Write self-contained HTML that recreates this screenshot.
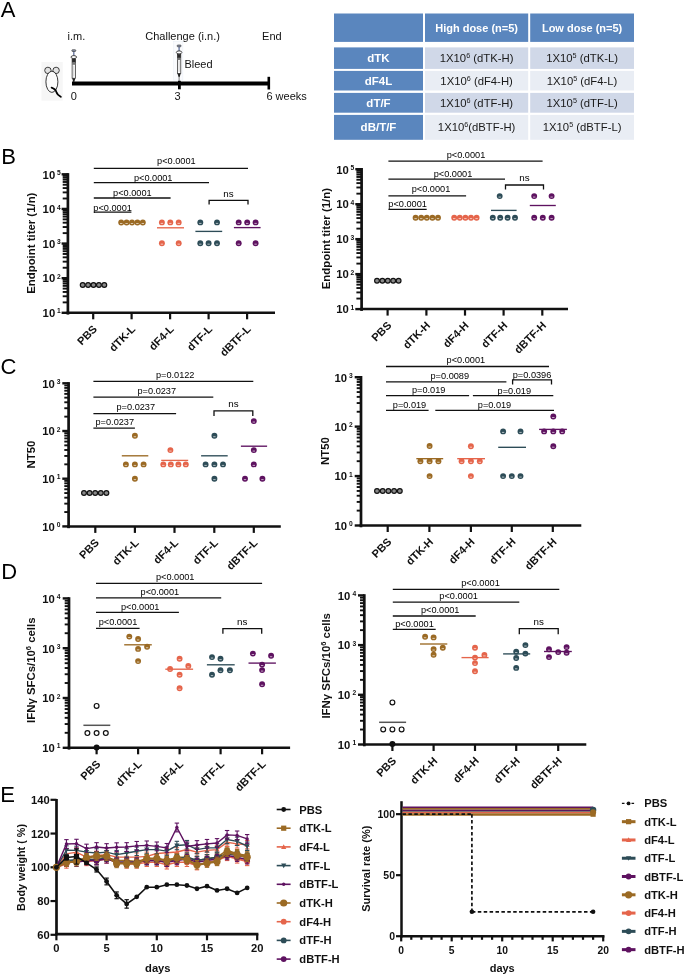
<!DOCTYPE html><html><head><meta charset="utf-8"><style>
html,body{margin:0;padding:0;background:#fff;}
svg{display:block;font-family:"Liberation Sans", sans-serif;will-change:transform;}
</style></head><body>
<svg width="685" height="976" viewBox="0 0 685 976">
<rect width="685" height="976" fill="#fff"/>
<text x="0.8" y="16.9" font-size="22" font-weight="normal" text-anchor="start" fill="#000" >A</text>
<text x="1.2" y="163.8" font-size="22" font-weight="normal" text-anchor="start" fill="#000" >B</text>
<text x="0.6" y="373.6" font-size="22" font-weight="normal" text-anchor="start" fill="#000" >C</text>
<text x="1.3" y="578.9" font-size="22" font-weight="normal" text-anchor="start" fill="#000" >D</text>
<text x="0.2" y="802.1" font-size="22" font-weight="normal" text-anchor="start" fill="#000" >E</text>
<rect x="41.5" y="62" width="21.2" height="38.6" fill="#f6f6f6"/>
<circle cx="47.9" cy="70.4" r="3.2" fill="#e2e2e2" stroke="#222" stroke-width="0.85"/>
<circle cx="56.1" cy="70.4" r="3.2" fill="#e2e2e2" stroke="#222" stroke-width="0.85"/>
<ellipse cx="51.9" cy="81.8" rx="6" ry="10.6" fill="#fbfbfb" stroke="#222" stroke-width="0.9"/>
<path d="M51.6,87.6 C54.5,88.5 55.8,89.5 56.6,92.6 C57.6,95.2 59,95.8 60.8,96.8" fill="none" stroke="#000" stroke-width="1.8" stroke-linecap="round"/>
<rect x="73.1" y="51.1" width="1.4" height="5.2" fill="#6c7aa2"/>
<rect x="71.8" y="49.7" width="4.0" height="1.8" rx="0.8" fill="#8a93a8" stroke="#333" stroke-width="0.6"/>
<ellipse cx="73.8" cy="57.1" rx="2.8" ry="1.5" fill="#fff" stroke="#222" stroke-width="0.8"/>
<rect x="72.1" y="59" width="3.4" height="19.2" fill="#fff" stroke="#222" stroke-width="0.7"/>
<rect x="72.1" y="59" width="3.4" height="3.6" fill="#2a2a2a"/>
<rect x="72.1" y="62.6" width="3.4" height="2.2" fill="#777"/>
<rect x="73.2" y="65.5" width="1.2" height="11" fill="#d8d8d8"/>
<path d="M72.2,78.2 L75.4,78.2 L74.3,82 L73.3,82 Z" fill="#222"/>
<line x1="73.8" y1="82" x2="73.8" y2="82.5" stroke="#444" stroke-width="0.7" />
<rect x="173.7" y="41.3" width="9.2" height="38.8" fill="#fafbfd" stroke="#e8eef6" stroke-width="0.5"/>
<rect x="178.4" y="46.4" width="1.4" height="5.2" fill="#6c7aa2"/>
<rect x="177.1" y="45" width="4.0" height="1.8" rx="0.8" fill="#8a93a8" stroke="#333" stroke-width="0.6"/>
<ellipse cx="179.1" cy="52.4" rx="2.8" ry="1.5" fill="#fff" stroke="#222" stroke-width="0.8"/>
<rect x="177.4" y="54.3" width="3.4" height="19.2" fill="#fff" stroke="#222" stroke-width="0.7"/>
<rect x="177.4" y="54.3" width="3.4" height="3.6" fill="#2a2a2a"/>
<rect x="177.4" y="57.9" width="3.4" height="2.2" fill="#777"/>
<rect x="178.5" y="60.8" width="1.2" height="11" fill="#d8d8d8"/>
<path d="M177.5,73.5 L180.7,73.5 L179.6,77.3 L178.6,77.3 Z" fill="#222"/>
<line x1="179.1" y1="77.3" x2="179.1" y2="81" stroke="#444" stroke-width="0.7" />
<line x1="72" y1="83.5" x2="269.5" y2="83.5" stroke="#000" stroke-width="3.8" />
<line x1="179.4" y1="80.8" x2="179.4" y2="89.3" stroke="#000" stroke-width="2.8" />
<line x1="268.8" y1="76.8" x2="268.8" y2="89.5" stroke="#000" stroke-width="2.6" />
<text x="67.5" y="39.8" font-size="11" font-weight="normal" text-anchor="start" fill="#111" >i.m.</text>
<text x="145.3" y="39.8" font-size="11" font-weight="normal" text-anchor="start" fill="#111" >Challenge (i.n.)</text>
<text x="262.1" y="39.8" font-size="11" font-weight="normal" text-anchor="start" fill="#111" >End</text>
<text x="184.4" y="67.5" font-size="11" font-weight="normal" text-anchor="start" fill="#111" >Bleed</text>
<text x="73.9" y="99.6" font-size="11" font-weight="normal" text-anchor="middle" fill="#111" >0</text>
<text x="177.6" y="99.6" font-size="11" font-weight="normal" text-anchor="middle" fill="#111" >3</text>
<text x="266.4" y="99.6" font-size="11" font-weight="normal" text-anchor="start" fill="#111" >6 weeks</text>
<rect x="334" y="13.5" width="89" height="28.4" fill="#5a86be"/>
<rect x="425" y="13.5" width="103.2" height="28.4" fill="#5a86be"/>
<rect x="530.2" y="13.5" width="103.8" height="28.4" fill="#5a86be"/>
<rect x="334" y="47.4" width="89" height="21.5" fill="#5a86be"/>
<rect x="425" y="47.4" width="103.2" height="21.5" fill="#d0d8e8"/>
<rect x="530.2" y="47.4" width="103.8" height="21.5" fill="#d0d8e8"/>
<rect x="334" y="70.9" width="89" height="19.6" fill="#5a86be"/>
<rect x="425" y="70.9" width="103.2" height="19.6" fill="#e9edf4"/>
<rect x="530.2" y="70.9" width="103.8" height="19.6" fill="#e9edf4"/>
<rect x="334" y="92.9" width="89" height="19.8" fill="#5a86be"/>
<rect x="425" y="92.9" width="103.2" height="19.8" fill="#d0d8e8"/>
<rect x="530.2" y="92.9" width="103.8" height="19.8" fill="#d0d8e8"/>
<rect x="334" y="114.9" width="89" height="24.9" fill="#5a86be"/>
<rect x="425" y="114.9" width="103.2" height="24.9" fill="#e9edf4"/>
<rect x="530.2" y="114.9" width="103.8" height="24.9" fill="#e9edf4"/>
<text x="476.6" y="31.7" font-size="11" font-weight="bold" text-anchor="middle" fill="#fff" >High dose (n=5)</text>
<text x="582.1" y="31.7" font-size="11" font-weight="bold" text-anchor="middle" fill="#fff" >Low dose (n=5)</text>
<text x="378.5" y="62.15" font-size="11.5" font-weight="bold" text-anchor="middle" fill="#fff" >dTK</text>
<text x="378.5" y="84.7" font-size="11.5" font-weight="bold" text-anchor="middle" fill="#fff" >dF4L</text>
<text x="378.5" y="106.8" font-size="11.5" font-weight="bold" text-anchor="middle" fill="#fff" >dT/F</text>
<text x="378.5" y="131.35" font-size="11.5" font-weight="bold" text-anchor="middle" fill="#fff" >dB/T/F</text>
<text x="476.6" y="62.15" font-size="11.3" text-anchor="middle" fill="#1a1a1a">1X10<tspan font-size="7.2" dy="-4">6</tspan><tspan dy="4"> (dTK-H)</tspan></text>
<text x="582.1" y="62.15" font-size="11.3" text-anchor="middle" fill="#1a1a1a">1X10<tspan font-size="7.2" dy="-4">5</tspan><tspan dy="4"> (dTK-L)</tspan></text>
<text x="476.6" y="84.7" font-size="11.3" text-anchor="middle" fill="#1a1a1a">1X10<tspan font-size="7.2" dy="-4">6</tspan><tspan dy="4"> (dF4-H)</tspan></text>
<text x="582.1" y="84.7" font-size="11.3" text-anchor="middle" fill="#1a1a1a">1X10<tspan font-size="7.2" dy="-4">5</tspan><tspan dy="4"> (dF4-L)</tspan></text>
<text x="476.6" y="106.8" font-size="11.3" text-anchor="middle" fill="#1a1a1a">1X10<tspan font-size="7.2" dy="-4">6</tspan><tspan dy="4"> (dTF-H)</tspan></text>
<text x="582.1" y="106.8" font-size="11.3" text-anchor="middle" fill="#1a1a1a">1X10<tspan font-size="7.2" dy="-4">5</tspan><tspan dy="4"> (dTF-L)</tspan></text>
<text x="476.6" y="131.35" font-size="11.3" text-anchor="middle" fill="#1a1a1a">1X10<tspan font-size="7.2" dy="-4">6</tspan><tspan dy="4">(dBTF-H)</tspan></text>
<text x="582.1" y="131.35" font-size="11.3" text-anchor="middle" fill="#1a1a1a">1X10<tspan font-size="7.2" dy="-4">5</tspan><tspan dy="4"> (dBTF-L)</tspan></text>
<line x1="62.7" y1="198.5" x2="67.9" y2="198.5" stroke="#111111" stroke-width="1.9" />
<line x1="62.7" y1="192.4" x2="67.9" y2="192.4" stroke="#111111" stroke-width="1.9" />
<line x1="62.7" y1="188.08" x2="67.9" y2="188.08" stroke="#111111" stroke-width="1.9" />
<line x1="62.7" y1="184.72" x2="67.9" y2="184.72" stroke="#111111" stroke-width="1.9" />
<line x1="62.7" y1="181.98" x2="67.9" y2="181.98" stroke="#111111" stroke-width="1.9" />
<line x1="62.7" y1="179.66" x2="67.9" y2="179.66" stroke="#111111" stroke-width="1.9" />
<line x1="62.7" y1="177.66" x2="67.9" y2="177.66" stroke="#111111" stroke-width="1.9" />
<line x1="62.7" y1="175.88" x2="67.9" y2="175.88" stroke="#111111" stroke-width="1.9" />
<line x1="62.7" y1="233.13" x2="67.9" y2="233.13" stroke="#111111" stroke-width="1.9" />
<line x1="62.7" y1="227.03" x2="67.9" y2="227.03" stroke="#111111" stroke-width="1.9" />
<line x1="62.7" y1="222.7" x2="67.9" y2="222.7" stroke="#111111" stroke-width="1.9" />
<line x1="62.7" y1="219.35" x2="67.9" y2="219.35" stroke="#111111" stroke-width="1.9" />
<line x1="62.7" y1="216.61" x2="67.9" y2="216.61" stroke="#111111" stroke-width="1.9" />
<line x1="62.7" y1="214.29" x2="67.9" y2="214.29" stroke="#111111" stroke-width="1.9" />
<line x1="62.7" y1="212.28" x2="67.9" y2="212.28" stroke="#111111" stroke-width="1.9" />
<line x1="62.7" y1="210.51" x2="67.9" y2="210.51" stroke="#111111" stroke-width="1.9" />
<line x1="62.7" y1="267.75" x2="67.9" y2="267.75" stroke="#111111" stroke-width="1.9" />
<line x1="62.7" y1="261.65" x2="67.9" y2="261.65" stroke="#111111" stroke-width="1.9" />
<line x1="62.7" y1="257.33" x2="67.9" y2="257.33" stroke="#111111" stroke-width="1.9" />
<line x1="62.7" y1="253.97" x2="67.9" y2="253.97" stroke="#111111" stroke-width="1.9" />
<line x1="62.7" y1="251.23" x2="67.9" y2="251.23" stroke="#111111" stroke-width="1.9" />
<line x1="62.7" y1="248.91" x2="67.9" y2="248.91" stroke="#111111" stroke-width="1.9" />
<line x1="62.7" y1="246.91" x2="67.9" y2="246.91" stroke="#111111" stroke-width="1.9" />
<line x1="62.7" y1="245.13" x2="67.9" y2="245.13" stroke="#111111" stroke-width="1.9" />
<line x1="62.7" y1="302.38" x2="67.9" y2="302.38" stroke="#111111" stroke-width="1.9" />
<line x1="62.7" y1="296.28" x2="67.9" y2="296.28" stroke="#111111" stroke-width="1.9" />
<line x1="62.7" y1="291.95" x2="67.9" y2="291.95" stroke="#111111" stroke-width="1.9" />
<line x1="62.7" y1="288.6" x2="67.9" y2="288.6" stroke="#111111" stroke-width="1.9" />
<line x1="62.7" y1="285.86" x2="67.9" y2="285.86" stroke="#111111" stroke-width="1.9" />
<line x1="62.7" y1="283.54" x2="67.9" y2="283.54" stroke="#111111" stroke-width="1.9" />
<line x1="62.7" y1="281.53" x2="67.9" y2="281.53" stroke="#111111" stroke-width="1.9" />
<line x1="62.7" y1="279.76" x2="67.9" y2="279.76" stroke="#111111" stroke-width="1.9" />
<line x1="61.6" y1="174.3" x2="67.9" y2="174.3" stroke="#111111" stroke-width="2.4" />
<text x="55.2" y="178.6" font-size="11.3" font-weight="bold" text-anchor="end" fill="#111" >10</text>
<text x="56.9" y="174.9" font-size="6.7" font-weight="bold" text-anchor="start" fill="#111" >5</text>
<line x1="61.6" y1="208.93" x2="67.9" y2="208.93" stroke="#111111" stroke-width="2.4" />
<text x="55.2" y="213.23" font-size="11.3" font-weight="bold" text-anchor="end" fill="#111" >10</text>
<text x="56.9" y="209.53" font-size="6.7" font-weight="bold" text-anchor="start" fill="#111" >4</text>
<line x1="61.6" y1="243.55" x2="67.9" y2="243.55" stroke="#111111" stroke-width="2.4" />
<text x="55.2" y="247.85" font-size="11.3" font-weight="bold" text-anchor="end" fill="#111" >10</text>
<text x="56.9" y="244.15" font-size="6.7" font-weight="bold" text-anchor="start" fill="#111" >3</text>
<line x1="61.6" y1="278.18" x2="67.9" y2="278.18" stroke="#111111" stroke-width="2.4" />
<text x="55.2" y="282.48" font-size="11.3" font-weight="bold" text-anchor="end" fill="#111" >10</text>
<text x="56.9" y="278.78" font-size="6.7" font-weight="bold" text-anchor="start" fill="#111" >2</text>
<line x1="61.6" y1="312.8" x2="67.9" y2="312.8" stroke="#111111" stroke-width="2.4" />
<text x="55.2" y="317.1" font-size="11.3" font-weight="bold" text-anchor="end" fill="#111" >10</text>
<text x="56.9" y="313.4" font-size="6.7" font-weight="bold" text-anchor="start" fill="#111" >1</text>
<line x1="67.9" y1="173.1" x2="67.9" y2="314.6" stroke="#111111" stroke-width="2.7" />
<line x1="66.6" y1="312.8" x2="275" y2="312.8" stroke="#111111" stroke-width="2.5" />
<line x1="93.2" y1="312.8" x2="93.2" y2="319.3" stroke="#111111" stroke-width="2.2" />
<line x1="131.6" y1="312.8" x2="131.6" y2="319.3" stroke="#111111" stroke-width="2.2" />
<line x1="170.1" y1="312.8" x2="170.1" y2="319.3" stroke="#111111" stroke-width="2.2" />
<line x1="208.6" y1="312.8" x2="208.6" y2="319.3" stroke="#111111" stroke-width="2.2" />
<line x1="247.1" y1="312.8" x2="247.1" y2="319.3" stroke="#111111" stroke-width="2.2" />
<text x="97.7" y="329.8" font-size="11" font-weight="bold" text-anchor="end" fill="#111" transform="rotate(-45 97.7 329.8)">PBS</text>
<text x="136.1" y="329.8" font-size="11" font-weight="bold" text-anchor="end" fill="#111" transform="rotate(-45 136.1 329.8)">dTK-L</text>
<text x="174.6" y="329.8" font-size="11" font-weight="bold" text-anchor="end" fill="#111" transform="rotate(-45 174.6 329.8)">dF4-L</text>
<text x="213.1" y="329.8" font-size="11" font-weight="bold" text-anchor="end" fill="#111" transform="rotate(-45 213.1 329.8)">dTF-L</text>
<text x="251.6" y="329.8" font-size="11" font-weight="bold" text-anchor="end" fill="#111" transform="rotate(-45 251.6 329.8)">dBTF-L</text>
<text x="35.5" y="243.2" font-size="11.4" font-weight="bold" text-anchor="middle" fill="#111" transform="rotate(-90 35.5 243.2)">Endpoint titer (1/n)</text>
<line x1="93.8" y1="168.3" x2="248" y2="168.3" stroke="#111111" stroke-width="1.3" />
<text x="176.4" y="164.3" font-size="9.2" font-weight="normal" text-anchor="middle" fill="#000" >p&lt;0.0001</text>
<line x1="93.8" y1="182.6" x2="209" y2="182.6" stroke="#111111" stroke-width="1.3" />
<text x="153.2" y="180.8" font-size="9.2" font-weight="normal" text-anchor="middle" fill="#000" >p&lt;0.0001</text>
<line x1="93.8" y1="198" x2="170.6" y2="198" stroke="#111111" stroke-width="1.3" />
<text x="132.4" y="195.8" font-size="9.2" font-weight="normal" text-anchor="middle" fill="#000" >p&lt;0.0001</text>
<line x1="93.8" y1="212.2" x2="131.4" y2="212.2" stroke="#111111" stroke-width="1.3" />
<text x="112.6" y="210.6" font-size="9.2" font-weight="normal" text-anchor="middle" fill="#000" >p&lt;0.0001</text>
<polyline points="209.1,204.6 209.1,200.4 248,200.4 248,204.6" fill="none" stroke="#111111" stroke-width="1.3"/>
<text x="228.55" y="196.6" font-size="9.8" font-weight="normal" text-anchor="middle" fill="#000" >ns</text>
<circle cx="82.7" cy="285" r="2.4" fill="#8a8a8a" stroke="#111111" stroke-width="1.2"/>
<circle cx="88.1" cy="285" r="2.4" fill="#8a8a8a" stroke="#111111" stroke-width="1.2"/>
<circle cx="93.5" cy="285" r="2.4" fill="#8a8a8a" stroke="#111111" stroke-width="1.2"/>
<circle cx="98.9" cy="285" r="2.4" fill="#8a8a8a" stroke="#111111" stroke-width="1.2"/>
<circle cx="104.3" cy="285" r="2.4" fill="#8a8a8a" stroke="#111111" stroke-width="1.2"/>
<circle cx="121.2" cy="222.5" r="2.95" fill="#9b6a24"/>
<rect x="120" y="223" width="2.4" height="0.9" fill="#fff" opacity="0.7"/>
<circle cx="126.6" cy="222.5" r="2.95" fill="#9b6a24"/>
<rect x="125.4" y="223" width="2.4" height="0.9" fill="#fff" opacity="0.7"/>
<circle cx="132" cy="222.5" r="2.95" fill="#9b6a24"/>
<rect x="130.8" y="223" width="2.4" height="0.9" fill="#fff" opacity="0.7"/>
<circle cx="137.4" cy="222.5" r="2.95" fill="#9b6a24"/>
<rect x="136.2" y="223" width="2.4" height="0.9" fill="#fff" opacity="0.7"/>
<circle cx="142.8" cy="222.5" r="2.95" fill="#9b6a24"/>
<rect x="141.6" y="223" width="2.4" height="0.9" fill="#fff" opacity="0.7"/>
<circle cx="161.9" cy="222.4" r="2.95" fill="#e5654b"/>
<rect x="160.7" y="222.9" width="2.4" height="0.9" fill="#fff" opacity="0.7"/>
<circle cx="170.3" cy="222.4" r="2.95" fill="#e5654b"/>
<rect x="169.1" y="222.9" width="2.4" height="0.9" fill="#fff" opacity="0.7"/>
<circle cx="178.7" cy="222.4" r="2.95" fill="#e5654b"/>
<rect x="177.5" y="222.9" width="2.4" height="0.9" fill="#fff" opacity="0.7"/>
<circle cx="161.9" cy="243.2" r="2.95" fill="#e5654b"/>
<rect x="160.7" y="243.7" width="2.4" height="0.9" fill="#fff" opacity="0.7"/>
<circle cx="178.7" cy="243.2" r="2.95" fill="#e5654b"/>
<rect x="177.5" y="243.7" width="2.4" height="0.9" fill="#fff" opacity="0.7"/>
<line x1="157" y1="227.8" x2="184" y2="227.8" stroke="#e5654b" stroke-width="1.35" />
<circle cx="200.3" cy="222.4" r="2.95" fill="#2d4c57"/>
<rect x="199.1" y="222.9" width="2.4" height="0.9" fill="#fff" opacity="0.7"/>
<circle cx="217" cy="222.4" r="2.95" fill="#2d4c57"/>
<rect x="215.8" y="222.9" width="2.4" height="0.9" fill="#fff" opacity="0.7"/>
<circle cx="200.3" cy="243.2" r="2.95" fill="#2d4c57"/>
<rect x="199.1" y="243.7" width="2.4" height="0.9" fill="#fff" opacity="0.7"/>
<circle cx="208.6" cy="243.2" r="2.95" fill="#2d4c57"/>
<rect x="207.4" y="243.7" width="2.4" height="0.9" fill="#fff" opacity="0.7"/>
<circle cx="217" cy="243.2" r="2.95" fill="#2d4c57"/>
<rect x="215.8" y="243.7" width="2.4" height="0.9" fill="#fff" opacity="0.7"/>
<line x1="195.4" y1="231.4" x2="222.2" y2="231.4" stroke="#2d4c57" stroke-width="1.35" />
<circle cx="238.7" cy="222.4" r="2.95" fill="#5e1260"/>
<rect x="237.5" y="222.9" width="2.4" height="0.9" fill="#fff" opacity="0.7"/>
<circle cx="247.2" cy="222.4" r="2.95" fill="#5e1260"/>
<rect x="246" y="222.9" width="2.4" height="0.9" fill="#fff" opacity="0.7"/>
<circle cx="255.6" cy="222.4" r="2.95" fill="#5e1260"/>
<rect x="254.4" y="222.9" width="2.4" height="0.9" fill="#fff" opacity="0.7"/>
<circle cx="238.7" cy="243.2" r="2.95" fill="#5e1260"/>
<rect x="237.5" y="243.7" width="2.4" height="0.9" fill="#fff" opacity="0.7"/>
<circle cx="255.6" cy="243.2" r="2.95" fill="#5e1260"/>
<rect x="254.4" y="243.7" width="2.4" height="0.9" fill="#fff" opacity="0.7"/>
<line x1="233.9" y1="227.6" x2="260.6" y2="227.6" stroke="#5e1260" stroke-width="1.35" />
<line x1="356.4" y1="193.65" x2="361.6" y2="193.65" stroke="#111111" stroke-width="1.9" />
<line x1="356.4" y1="187.49" x2="361.6" y2="187.49" stroke="#111111" stroke-width="1.9" />
<line x1="356.4" y1="183.12" x2="361.6" y2="183.12" stroke="#111111" stroke-width="1.9" />
<line x1="356.4" y1="179.73" x2="361.6" y2="179.73" stroke="#111111" stroke-width="1.9" />
<line x1="356.4" y1="176.96" x2="361.6" y2="176.96" stroke="#111111" stroke-width="1.9" />
<line x1="356.4" y1="174.62" x2="361.6" y2="174.62" stroke="#111111" stroke-width="1.9" />
<line x1="356.4" y1="172.59" x2="361.6" y2="172.59" stroke="#111111" stroke-width="1.9" />
<line x1="356.4" y1="170.8" x2="361.6" y2="170.8" stroke="#111111" stroke-width="1.9" />
<line x1="356.4" y1="228.62" x2="361.6" y2="228.62" stroke="#111111" stroke-width="1.9" />
<line x1="356.4" y1="222.46" x2="361.6" y2="222.46" stroke="#111111" stroke-width="1.9" />
<line x1="356.4" y1="218.09" x2="361.6" y2="218.09" stroke="#111111" stroke-width="1.9" />
<line x1="356.4" y1="214.7" x2="361.6" y2="214.7" stroke="#111111" stroke-width="1.9" />
<line x1="356.4" y1="211.93" x2="361.6" y2="211.93" stroke="#111111" stroke-width="1.9" />
<line x1="356.4" y1="209.59" x2="361.6" y2="209.59" stroke="#111111" stroke-width="1.9" />
<line x1="356.4" y1="207.56" x2="361.6" y2="207.56" stroke="#111111" stroke-width="1.9" />
<line x1="356.4" y1="205.78" x2="361.6" y2="205.78" stroke="#111111" stroke-width="1.9" />
<line x1="356.4" y1="263.6" x2="361.6" y2="263.6" stroke="#111111" stroke-width="1.9" />
<line x1="356.4" y1="257.44" x2="361.6" y2="257.44" stroke="#111111" stroke-width="1.9" />
<line x1="356.4" y1="253.07" x2="361.6" y2="253.07" stroke="#111111" stroke-width="1.9" />
<line x1="356.4" y1="249.68" x2="361.6" y2="249.68" stroke="#111111" stroke-width="1.9" />
<line x1="356.4" y1="246.91" x2="361.6" y2="246.91" stroke="#111111" stroke-width="1.9" />
<line x1="356.4" y1="244.57" x2="361.6" y2="244.57" stroke="#111111" stroke-width="1.9" />
<line x1="356.4" y1="242.54" x2="361.6" y2="242.54" stroke="#111111" stroke-width="1.9" />
<line x1="356.4" y1="240.75" x2="361.6" y2="240.75" stroke="#111111" stroke-width="1.9" />
<line x1="356.4" y1="298.57" x2="361.6" y2="298.57" stroke="#111111" stroke-width="1.9" />
<line x1="356.4" y1="292.41" x2="361.6" y2="292.41" stroke="#111111" stroke-width="1.9" />
<line x1="356.4" y1="288.04" x2="361.6" y2="288.04" stroke="#111111" stroke-width="1.9" />
<line x1="356.4" y1="284.65" x2="361.6" y2="284.65" stroke="#111111" stroke-width="1.9" />
<line x1="356.4" y1="281.88" x2="361.6" y2="281.88" stroke="#111111" stroke-width="1.9" />
<line x1="356.4" y1="279.54" x2="361.6" y2="279.54" stroke="#111111" stroke-width="1.9" />
<line x1="356.4" y1="277.51" x2="361.6" y2="277.51" stroke="#111111" stroke-width="1.9" />
<line x1="356.4" y1="275.73" x2="361.6" y2="275.73" stroke="#111111" stroke-width="1.9" />
<line x1="355.3" y1="169.2" x2="361.6" y2="169.2" stroke="#111111" stroke-width="2.4" />
<text x="348.9" y="173.5" font-size="11.3" font-weight="bold" text-anchor="end" fill="#111" >10</text>
<text x="350.6" y="169.8" font-size="6.7" font-weight="bold" text-anchor="start" fill="#111" >5</text>
<line x1="355.3" y1="204.18" x2="361.6" y2="204.18" stroke="#111111" stroke-width="2.4" />
<text x="348.9" y="208.48" font-size="11.3" font-weight="bold" text-anchor="end" fill="#111" >10</text>
<text x="350.6" y="204.78" font-size="6.7" font-weight="bold" text-anchor="start" fill="#111" >4</text>
<line x1="355.3" y1="239.15" x2="361.6" y2="239.15" stroke="#111111" stroke-width="2.4" />
<text x="348.9" y="243.45" font-size="11.3" font-weight="bold" text-anchor="end" fill="#111" >10</text>
<text x="350.6" y="239.75" font-size="6.7" font-weight="bold" text-anchor="start" fill="#111" >3</text>
<line x1="355.3" y1="274.12" x2="361.6" y2="274.12" stroke="#111111" stroke-width="2.4" />
<text x="348.9" y="278.43" font-size="11.3" font-weight="bold" text-anchor="end" fill="#111" >10</text>
<text x="350.6" y="274.73" font-size="6.7" font-weight="bold" text-anchor="start" fill="#111" >2</text>
<line x1="355.3" y1="309.1" x2="361.6" y2="309.1" stroke="#111111" stroke-width="2.4" />
<text x="348.9" y="313.4" font-size="11.3" font-weight="bold" text-anchor="end" fill="#111" >10</text>
<text x="350.6" y="309.7" font-size="6.7" font-weight="bold" text-anchor="start" fill="#111" >1</text>
<line x1="361.6" y1="168" x2="361.6" y2="310.9" stroke="#111111" stroke-width="2.7" />
<line x1="360.3" y1="309.1" x2="568" y2="309.1" stroke="#111111" stroke-width="2.5" />
<line x1="387.6" y1="309.1" x2="387.6" y2="315.6" stroke="#111111" stroke-width="2.2" />
<line x1="426.4" y1="309.1" x2="426.4" y2="315.6" stroke="#111111" stroke-width="2.2" />
<line x1="465" y1="309.1" x2="465" y2="315.6" stroke="#111111" stroke-width="2.2" />
<line x1="503.6" y1="309.1" x2="503.6" y2="315.6" stroke="#111111" stroke-width="2.2" />
<line x1="542.3" y1="309.1" x2="542.3" y2="315.6" stroke="#111111" stroke-width="2.2" />
<text x="392.1" y="326.1" font-size="11" font-weight="bold" text-anchor="end" fill="#111" transform="rotate(-45 392.1 326.1)">PBS</text>
<text x="430.9" y="326.1" font-size="11" font-weight="bold" text-anchor="end" fill="#111" transform="rotate(-45 430.9 326.1)">dTK-H</text>
<text x="469.5" y="326.1" font-size="11" font-weight="bold" text-anchor="end" fill="#111" transform="rotate(-45 469.5 326.1)">dF4-H</text>
<text x="508.1" y="326.1" font-size="11" font-weight="bold" text-anchor="end" fill="#111" transform="rotate(-45 508.1 326.1)">dTF-H</text>
<text x="546.8" y="326.1" font-size="11" font-weight="bold" text-anchor="end" fill="#111" transform="rotate(-45 546.8 326.1)">dBTF-H</text>
<text x="330.2" y="238.6" font-size="11.4" font-weight="bold" text-anchor="middle" fill="#111" transform="rotate(-90 330.2 238.6)">Endpoint titer (1/n)</text>
<line x1="388.4" y1="161.2" x2="542.6" y2="161.2" stroke="#111111" stroke-width="1.3" />
<text x="466" y="157.6" font-size="9.2" font-weight="normal" text-anchor="middle" fill="#000" >p&lt;0.0001</text>
<line x1="388.4" y1="179.2" x2="505" y2="179.2" stroke="#111111" stroke-width="1.3" />
<text x="453" y="177.3" font-size="9.2" font-weight="normal" text-anchor="middle" fill="#000" >p&lt;0.0001</text>
<line x1="388.4" y1="195.8" x2="466.1" y2="195.8" stroke="#111111" stroke-width="1.3" />
<text x="431" y="192.4" font-size="9.2" font-weight="normal" text-anchor="middle" fill="#000" >p&lt;0.0001</text>
<line x1="388.4" y1="209.3" x2="426.7" y2="209.3" stroke="#111111" stroke-width="1.3" />
<text x="407.6" y="207.1" font-size="9.2" font-weight="normal" text-anchor="middle" fill="#000" >p&lt;0.0001</text>
<polyline points="505.5,189.6 505.5,185 543.5,185 543.5,189.6" fill="none" stroke="#111111" stroke-width="1.3"/>
<text x="524.5" y="181.2" font-size="9.8" font-weight="normal" text-anchor="middle" fill="#000" >ns</text>
<circle cx="377" cy="280.8" r="2.4" fill="#8a8a8a" stroke="#111111" stroke-width="1.2"/>
<circle cx="382.4" cy="280.8" r="2.4" fill="#8a8a8a" stroke="#111111" stroke-width="1.2"/>
<circle cx="387.8" cy="280.8" r="2.4" fill="#8a8a8a" stroke="#111111" stroke-width="1.2"/>
<circle cx="393.2" cy="280.8" r="2.4" fill="#8a8a8a" stroke="#111111" stroke-width="1.2"/>
<circle cx="398.6" cy="280.8" r="2.4" fill="#8a8a8a" stroke="#111111" stroke-width="1.2"/>
<circle cx="415.6" cy="217.7" r="2.95" fill="#9b6a24"/>
<rect x="414.4" y="218.2" width="2.4" height="0.9" fill="#fff" opacity="0.7"/>
<circle cx="421.2" cy="217.7" r="2.95" fill="#9b6a24"/>
<rect x="420" y="218.2" width="2.4" height="0.9" fill="#fff" opacity="0.7"/>
<circle cx="426.8" cy="217.7" r="2.95" fill="#9b6a24"/>
<rect x="425.6" y="218.2" width="2.4" height="0.9" fill="#fff" opacity="0.7"/>
<circle cx="432.4" cy="217.7" r="2.95" fill="#9b6a24"/>
<rect x="431.2" y="218.2" width="2.4" height="0.9" fill="#fff" opacity="0.7"/>
<circle cx="438" cy="217.7" r="2.95" fill="#9b6a24"/>
<rect x="436.8" y="218.2" width="2.4" height="0.9" fill="#fff" opacity="0.7"/>
<circle cx="454.2" cy="217.7" r="2.95" fill="#e5654b"/>
<rect x="453" y="218.2" width="2.4" height="0.9" fill="#fff" opacity="0.7"/>
<circle cx="459.8" cy="217.7" r="2.95" fill="#e5654b"/>
<rect x="458.6" y="218.2" width="2.4" height="0.9" fill="#fff" opacity="0.7"/>
<circle cx="465.4" cy="217.7" r="2.95" fill="#e5654b"/>
<rect x="464.2" y="218.2" width="2.4" height="0.9" fill="#fff" opacity="0.7"/>
<circle cx="471" cy="217.7" r="2.95" fill="#e5654b"/>
<rect x="469.8" y="218.2" width="2.4" height="0.9" fill="#fff" opacity="0.7"/>
<circle cx="476.6" cy="217.7" r="2.95" fill="#e5654b"/>
<rect x="475.4" y="218.2" width="2.4" height="0.9" fill="#fff" opacity="0.7"/>
<circle cx="492.8" cy="217.7" r="2.95" fill="#2d4c57"/>
<rect x="491.6" y="218.2" width="2.4" height="0.9" fill="#fff" opacity="0.7"/>
<circle cx="500.2" cy="217.7" r="2.95" fill="#2d4c57"/>
<rect x="499" y="218.2" width="2.4" height="0.9" fill="#fff" opacity="0.7"/>
<circle cx="507.6" cy="217.7" r="2.95" fill="#2d4c57"/>
<rect x="506.4" y="218.2" width="2.4" height="0.9" fill="#fff" opacity="0.7"/>
<circle cx="515" cy="217.7" r="2.95" fill="#2d4c57"/>
<rect x="513.8" y="218.2" width="2.4" height="0.9" fill="#fff" opacity="0.7"/>
<circle cx="499.7" cy="196.1" r="2.95" fill="#2d4c57"/>
<rect x="498.5" y="196.6" width="2.4" height="0.9" fill="#fff" opacity="0.7"/>
<line x1="491" y1="210.4" x2="516.6" y2="210.4" stroke="#2d4c57" stroke-width="1.35" />
<circle cx="534.2" cy="217.7" r="2.95" fill="#5e1260"/>
<rect x="533" y="218.2" width="2.4" height="0.9" fill="#fff" opacity="0.7"/>
<circle cx="542.8" cy="217.7" r="2.95" fill="#5e1260"/>
<rect x="541.6" y="218.2" width="2.4" height="0.9" fill="#fff" opacity="0.7"/>
<circle cx="551.6" cy="217.7" r="2.95" fill="#5e1260"/>
<rect x="550.4" y="218.2" width="2.4" height="0.9" fill="#fff" opacity="0.7"/>
<circle cx="534.2" cy="196.1" r="2.95" fill="#5e1260"/>
<rect x="533" y="196.6" width="2.4" height="0.9" fill="#fff" opacity="0.7"/>
<circle cx="551.6" cy="196.1" r="2.95" fill="#5e1260"/>
<rect x="550.4" y="196.6" width="2.4" height="0.9" fill="#fff" opacity="0.7"/>
<line x1="529.8" y1="205.5" x2="555.8" y2="205.5" stroke="#5e1260" stroke-width="1.35" />
<line x1="64.3" y1="416.64" x2="68.6" y2="416.64" stroke="#111111" stroke-width="1.9" />
<line x1="64.3" y1="408.24" x2="68.6" y2="408.24" stroke="#111111" stroke-width="1.9" />
<line x1="64.3" y1="402.28" x2="68.6" y2="402.28" stroke="#111111" stroke-width="1.9" />
<line x1="64.3" y1="397.66" x2="68.6" y2="397.66" stroke="#111111" stroke-width="1.9" />
<line x1="64.3" y1="393.88" x2="68.6" y2="393.88" stroke="#111111" stroke-width="1.9" />
<line x1="64.3" y1="390.69" x2="68.6" y2="390.69" stroke="#111111" stroke-width="1.9" />
<line x1="64.3" y1="387.92" x2="68.6" y2="387.92" stroke="#111111" stroke-width="1.9" />
<line x1="64.3" y1="385.48" x2="68.6" y2="385.48" stroke="#111111" stroke-width="1.9" />
<line x1="64.3" y1="464.34" x2="68.6" y2="464.34" stroke="#111111" stroke-width="1.9" />
<line x1="64.3" y1="455.94" x2="68.6" y2="455.94" stroke="#111111" stroke-width="1.9" />
<line x1="64.3" y1="449.98" x2="68.6" y2="449.98" stroke="#111111" stroke-width="1.9" />
<line x1="64.3" y1="445.36" x2="68.6" y2="445.36" stroke="#111111" stroke-width="1.9" />
<line x1="64.3" y1="441.58" x2="68.6" y2="441.58" stroke="#111111" stroke-width="1.9" />
<line x1="64.3" y1="438.39" x2="68.6" y2="438.39" stroke="#111111" stroke-width="1.9" />
<line x1="64.3" y1="435.62" x2="68.6" y2="435.62" stroke="#111111" stroke-width="1.9" />
<line x1="64.3" y1="433.18" x2="68.6" y2="433.18" stroke="#111111" stroke-width="1.9" />
<line x1="64.3" y1="512.04" x2="68.6" y2="512.04" stroke="#111111" stroke-width="1.9" />
<line x1="64.3" y1="503.64" x2="68.6" y2="503.64" stroke="#111111" stroke-width="1.9" />
<line x1="64.3" y1="497.68" x2="68.6" y2="497.68" stroke="#111111" stroke-width="1.9" />
<line x1="64.3" y1="493.06" x2="68.6" y2="493.06" stroke="#111111" stroke-width="1.9" />
<line x1="64.3" y1="489.28" x2="68.6" y2="489.28" stroke="#111111" stroke-width="1.9" />
<line x1="64.3" y1="486.09" x2="68.6" y2="486.09" stroke="#111111" stroke-width="1.9" />
<line x1="64.3" y1="483.32" x2="68.6" y2="483.32" stroke="#111111" stroke-width="1.9" />
<line x1="64.3" y1="480.88" x2="68.6" y2="480.88" stroke="#111111" stroke-width="1.9" />
<line x1="62.3" y1="383.3" x2="68.6" y2="383.3" stroke="#111111" stroke-width="2.4" />
<text x="54.8" y="387.6" font-size="11.3" font-weight="bold" text-anchor="end" fill="#111" >10</text>
<text x="56.7" y="383.9" font-size="6.7" font-weight="bold" text-anchor="start" fill="#111" >3</text>
<line x1="62.3" y1="431" x2="68.6" y2="431" stroke="#111111" stroke-width="2.4" />
<text x="54.8" y="435.3" font-size="11.3" font-weight="bold" text-anchor="end" fill="#111" >10</text>
<text x="56.7" y="431.6" font-size="6.7" font-weight="bold" text-anchor="start" fill="#111" >2</text>
<line x1="62.3" y1="478.7" x2="68.6" y2="478.7" stroke="#111111" stroke-width="2.4" />
<text x="54.8" y="483" font-size="11.3" font-weight="bold" text-anchor="end" fill="#111" >10</text>
<text x="56.7" y="479.3" font-size="6.7" font-weight="bold" text-anchor="start" fill="#111" >1</text>
<line x1="62.3" y1="526.4" x2="68.6" y2="526.4" stroke="#111111" stroke-width="2.4" />
<text x="54.8" y="530.7" font-size="11.3" font-weight="bold" text-anchor="end" fill="#111" >10</text>
<text x="56.7" y="527" font-size="6.7" font-weight="bold" text-anchor="start" fill="#111" >0</text>
<line x1="68.6" y1="382.1" x2="68.6" y2="528.2" stroke="#111111" stroke-width="2.7" />
<line x1="67.3" y1="526.4" x2="280.8" y2="526.4" stroke="#111111" stroke-width="2.5" />
<line x1="95.3" y1="526.4" x2="95.3" y2="532.9" stroke="#111111" stroke-width="2.2" />
<line x1="134.9" y1="526.4" x2="134.9" y2="532.9" stroke="#111111" stroke-width="2.2" />
<line x1="174.5" y1="526.4" x2="174.5" y2="532.9" stroke="#111111" stroke-width="2.2" />
<line x1="214.3" y1="526.4" x2="214.3" y2="532.9" stroke="#111111" stroke-width="2.2" />
<line x1="253.8" y1="526.4" x2="253.8" y2="532.9" stroke="#111111" stroke-width="2.2" />
<text x="99.8" y="543.4" font-size="11" font-weight="bold" text-anchor="end" fill="#111" transform="rotate(-45 99.8 543.4)">PBS</text>
<text x="139.4" y="543.4" font-size="11" font-weight="bold" text-anchor="end" fill="#111" transform="rotate(-45 139.4 543.4)">dTK-L</text>
<text x="179" y="543.4" font-size="11" font-weight="bold" text-anchor="end" fill="#111" transform="rotate(-45 179 543.4)">dF4-L</text>
<text x="218.8" y="543.4" font-size="11" font-weight="bold" text-anchor="end" fill="#111" transform="rotate(-45 218.8 543.4)">dTF-L</text>
<text x="258.3" y="543.4" font-size="11" font-weight="bold" text-anchor="end" fill="#111" transform="rotate(-45 258.3 543.4)">dBTF-L</text>
<text x="35.5" y="454.6" font-size="11.4" font-weight="bold" text-anchor="middle" fill="#111" transform="rotate(-90 35.5 454.6)">NT50</text>
<line x1="93.4" y1="381.4" x2="253.3" y2="381.4" stroke="#111111" stroke-width="1.3" />
<text x="175.2" y="377.8" font-size="9.2" font-weight="normal" text-anchor="middle" fill="#000" >p=0.0122</text>
<line x1="93.4" y1="397.1" x2="213.3" y2="397.1" stroke="#111111" stroke-width="1.3" />
<text x="156.8" y="393.7" font-size="9.2" font-weight="normal" text-anchor="middle" fill="#000" >p=0.0237</text>
<line x1="93.4" y1="413.6" x2="176.1" y2="413.6" stroke="#111111" stroke-width="1.3" />
<text x="135.8" y="410.2" font-size="9.2" font-weight="normal" text-anchor="middle" fill="#000" >p=0.0237</text>
<line x1="93.4" y1="428.2" x2="134.9" y2="428.2" stroke="#111111" stroke-width="1.3" />
<text x="114.8" y="424.8" font-size="9.2" font-weight="normal" text-anchor="middle" fill="#000" >p=0.0237</text>
<polyline points="214,415.9 214,410.9 252.8,410.9 252.8,415.9" fill="none" stroke="#111111" stroke-width="1.3"/>
<text x="233.4" y="407.3" font-size="9.8" font-weight="normal" text-anchor="middle" fill="#000" >ns</text>
<circle cx="84" cy="493" r="2.4" fill="#8a8a8a" stroke="#111111" stroke-width="1.2"/>
<circle cx="89.6" cy="493" r="2.4" fill="#8a8a8a" stroke="#111111" stroke-width="1.2"/>
<circle cx="95.2" cy="493" r="2.4" fill="#8a8a8a" stroke="#111111" stroke-width="1.2"/>
<circle cx="100.8" cy="493" r="2.4" fill="#8a8a8a" stroke="#111111" stroke-width="1.2"/>
<circle cx="106.4" cy="493" r="2.4" fill="#8a8a8a" stroke="#111111" stroke-width="1.2"/>
<circle cx="134.9" cy="435.8" r="2.95" fill="#9b6a24"/>
<rect x="133.7" y="436.3" width="2.4" height="0.9" fill="#fff" opacity="0.7"/>
<circle cx="125.9" cy="464.4" r="2.95" fill="#9b6a24"/>
<rect x="124.7" y="464.9" width="2.4" height="0.9" fill="#fff" opacity="0.7"/>
<circle cx="134.9" cy="464.4" r="2.95" fill="#9b6a24"/>
<rect x="133.7" y="464.9" width="2.4" height="0.9" fill="#fff" opacity="0.7"/>
<circle cx="143.6" cy="464.4" r="2.95" fill="#9b6a24"/>
<rect x="142.4" y="464.9" width="2.4" height="0.9" fill="#fff" opacity="0.7"/>
<circle cx="134.9" cy="478.7" r="2.95" fill="#9b6a24"/>
<rect x="133.7" y="479.2" width="2.4" height="0.9" fill="#fff" opacity="0.7"/>
<line x1="121.8" y1="455.8" x2="148.3" y2="455.8" stroke="#9b6a24" stroke-width="1.35" />
<circle cx="170.4" cy="450.1" r="2.95" fill="#e5654b"/>
<rect x="169.2" y="450.6" width="2.4" height="0.9" fill="#fff" opacity="0.7"/>
<circle cx="163.3" cy="464.4" r="2.95" fill="#e5654b"/>
<rect x="162.1" y="464.9" width="2.4" height="0.9" fill="#fff" opacity="0.7"/>
<circle cx="170.8" cy="464.4" r="2.95" fill="#e5654b"/>
<rect x="169.6" y="464.9" width="2.4" height="0.9" fill="#fff" opacity="0.7"/>
<circle cx="178.4" cy="464.4" r="2.95" fill="#e5654b"/>
<rect x="177.2" y="464.9" width="2.4" height="0.9" fill="#fff" opacity="0.7"/>
<circle cx="185.8" cy="464.4" r="2.95" fill="#e5654b"/>
<rect x="184.6" y="464.9" width="2.4" height="0.9" fill="#fff" opacity="0.7"/>
<line x1="161.2" y1="460.4" x2="188.2" y2="460.4" stroke="#e5654b" stroke-width="1.35" />
<circle cx="214.4" cy="435.8" r="2.95" fill="#2d4c57"/>
<rect x="213.2" y="436.3" width="2.4" height="0.9" fill="#fff" opacity="0.7"/>
<circle cx="205.6" cy="464.4" r="2.95" fill="#2d4c57"/>
<rect x="204.4" y="464.9" width="2.4" height="0.9" fill="#fff" opacity="0.7"/>
<circle cx="214.4" cy="464.4" r="2.95" fill="#2d4c57"/>
<rect x="213.2" y="464.9" width="2.4" height="0.9" fill="#fff" opacity="0.7"/>
<circle cx="223" cy="464.4" r="2.95" fill="#2d4c57"/>
<rect x="221.8" y="464.9" width="2.4" height="0.9" fill="#fff" opacity="0.7"/>
<circle cx="214.4" cy="478.7" r="2.95" fill="#2d4c57"/>
<rect x="213.2" y="479.2" width="2.4" height="0.9" fill="#fff" opacity="0.7"/>
<line x1="201.1" y1="455.8" x2="227.7" y2="455.8" stroke="#2d4c57" stroke-width="1.35" />
<circle cx="253.8" cy="421.1" r="2.95" fill="#5e1260"/>
<rect x="252.6" y="421.6" width="2.4" height="0.9" fill="#fff" opacity="0.7"/>
<circle cx="253.8" cy="450.1" r="2.95" fill="#5e1260"/>
<rect x="252.6" y="450.6" width="2.4" height="0.9" fill="#fff" opacity="0.7"/>
<circle cx="253.8" cy="464.4" r="2.95" fill="#5e1260"/>
<rect x="252.6" y="464.9" width="2.4" height="0.9" fill="#fff" opacity="0.7"/>
<circle cx="245" cy="478.7" r="2.95" fill="#5e1260"/>
<rect x="243.8" y="479.2" width="2.4" height="0.9" fill="#fff" opacity="0.7"/>
<circle cx="262.4" cy="478.7" r="2.95" fill="#5e1260"/>
<rect x="261.2" y="479.2" width="2.4" height="0.9" fill="#fff" opacity="0.7"/>
<line x1="240.9" y1="446.2" x2="267.1" y2="446.2" stroke="#5e1260" stroke-width="1.35" />
<line x1="356.7" y1="411.75" x2="361" y2="411.75" stroke="#111111" stroke-width="1.9" />
<line x1="356.7" y1="403.05" x2="361" y2="403.05" stroke="#111111" stroke-width="1.9" />
<line x1="356.7" y1="396.87" x2="361" y2="396.87" stroke="#111111" stroke-width="1.9" />
<line x1="356.7" y1="392.08" x2="361" y2="392.08" stroke="#111111" stroke-width="1.9" />
<line x1="356.7" y1="388.17" x2="361" y2="388.17" stroke="#111111" stroke-width="1.9" />
<line x1="356.7" y1="384.86" x2="361" y2="384.86" stroke="#111111" stroke-width="1.9" />
<line x1="356.7" y1="381.99" x2="361" y2="381.99" stroke="#111111" stroke-width="1.9" />
<line x1="356.7" y1="379.46" x2="361" y2="379.46" stroke="#111111" stroke-width="1.9" />
<line x1="356.7" y1="461.19" x2="361" y2="461.19" stroke="#111111" stroke-width="1.9" />
<line x1="356.7" y1="452.48" x2="361" y2="452.48" stroke="#111111" stroke-width="1.9" />
<line x1="356.7" y1="446.3" x2="361" y2="446.3" stroke="#111111" stroke-width="1.9" />
<line x1="356.7" y1="441.51" x2="361" y2="441.51" stroke="#111111" stroke-width="1.9" />
<line x1="356.7" y1="437.6" x2="361" y2="437.6" stroke="#111111" stroke-width="1.9" />
<line x1="356.7" y1="434.29" x2="361" y2="434.29" stroke="#111111" stroke-width="1.9" />
<line x1="356.7" y1="431.42" x2="361" y2="431.42" stroke="#111111" stroke-width="1.9" />
<line x1="356.7" y1="428.9" x2="361" y2="428.9" stroke="#111111" stroke-width="1.9" />
<line x1="356.7" y1="510.62" x2="361" y2="510.62" stroke="#111111" stroke-width="1.9" />
<line x1="356.7" y1="501.91" x2="361" y2="501.91" stroke="#111111" stroke-width="1.9" />
<line x1="356.7" y1="495.74" x2="361" y2="495.74" stroke="#111111" stroke-width="1.9" />
<line x1="356.7" y1="490.95" x2="361" y2="490.95" stroke="#111111" stroke-width="1.9" />
<line x1="356.7" y1="487.03" x2="361" y2="487.03" stroke="#111111" stroke-width="1.9" />
<line x1="356.7" y1="483.72" x2="361" y2="483.72" stroke="#111111" stroke-width="1.9" />
<line x1="356.7" y1="480.86" x2="361" y2="480.86" stroke="#111111" stroke-width="1.9" />
<line x1="356.7" y1="478.33" x2="361" y2="478.33" stroke="#111111" stroke-width="1.9" />
<line x1="354.7" y1="377.2" x2="361" y2="377.2" stroke="#111111" stroke-width="2.4" />
<text x="347" y="381.5" font-size="11.3" font-weight="bold" text-anchor="end" fill="#111" >10</text>
<text x="348.9" y="377.8" font-size="6.7" font-weight="bold" text-anchor="start" fill="#111" >3</text>
<line x1="354.7" y1="426.63" x2="361" y2="426.63" stroke="#111111" stroke-width="2.4" />
<text x="347" y="430.93" font-size="11.3" font-weight="bold" text-anchor="end" fill="#111" >10</text>
<text x="348.9" y="427.23" font-size="6.7" font-weight="bold" text-anchor="start" fill="#111" >2</text>
<line x1="354.7" y1="476.07" x2="361" y2="476.07" stroke="#111111" stroke-width="2.4" />
<text x="347" y="480.37" font-size="11.3" font-weight="bold" text-anchor="end" fill="#111" >10</text>
<text x="348.9" y="476.67" font-size="6.7" font-weight="bold" text-anchor="start" fill="#111" >1</text>
<line x1="354.7" y1="525.5" x2="361" y2="525.5" stroke="#111111" stroke-width="2.4" />
<text x="347" y="529.8" font-size="11.3" font-weight="bold" text-anchor="end" fill="#111" >10</text>
<text x="348.9" y="526.1" font-size="6.7" font-weight="bold" text-anchor="start" fill="#111" >0</text>
<line x1="361" y1="376" x2="361" y2="527.3" stroke="#111111" stroke-width="2.7" />
<line x1="359.7" y1="525.5" x2="581.3" y2="525.5" stroke="#111111" stroke-width="2.5" />
<line x1="387.7" y1="525.5" x2="387.7" y2="532" stroke="#111111" stroke-width="2.2" />
<line x1="429.4" y1="525.5" x2="429.4" y2="532" stroke="#111111" stroke-width="2.2" />
<line x1="470.9" y1="525.5" x2="470.9" y2="532" stroke="#111111" stroke-width="2.2" />
<line x1="511.8" y1="525.5" x2="511.8" y2="532" stroke="#111111" stroke-width="2.2" />
<line x1="552.8" y1="525.5" x2="552.8" y2="532" stroke="#111111" stroke-width="2.2" />
<text x="392.2" y="542.5" font-size="11" font-weight="bold" text-anchor="end" fill="#111" transform="rotate(-45 392.2 542.5)">PBS</text>
<text x="433.9" y="542.5" font-size="11" font-weight="bold" text-anchor="end" fill="#111" transform="rotate(-45 433.9 542.5)">dTK-H</text>
<text x="475.4" y="542.5" font-size="11" font-weight="bold" text-anchor="end" fill="#111" transform="rotate(-45 475.4 542.5)">dF4-H</text>
<text x="516.3" y="542.5" font-size="11" font-weight="bold" text-anchor="end" fill="#111" transform="rotate(-45 516.3 542.5)">dTF-H</text>
<text x="557.3" y="542.5" font-size="11" font-weight="bold" text-anchor="end" fill="#111" transform="rotate(-45 557.3 542.5)">dBTF-H</text>
<text x="328.5" y="451" font-size="11.4" font-weight="bold" text-anchor="middle" fill="#111" transform="rotate(-90 328.5 451)">NT50</text>
<line x1="386" y1="366.5" x2="549" y2="366.5" stroke="#111111" stroke-width="1.3" />
<text x="465.9" y="362.9" font-size="9.2" font-weight="normal" text-anchor="middle" fill="#000" >p&lt;0.0001</text>
<line x1="386" y1="381.9" x2="506.4" y2="381.9" stroke="#111111" stroke-width="1.3" />
<text x="449.8" y="378.7" font-size="9.2" font-weight="normal" text-anchor="middle" fill="#000" >p=0.0089</text>
<polyline points="512.6,384.4 512.6,379.8 551.5,379.8 551.5,384.4" fill="none" stroke="#111111" stroke-width="1.3"/>
<text x="532.05" y="377.9" font-size="9.2" font-weight="normal" text-anchor="middle" fill="#000" >p=0.0396</text>
<line x1="386" y1="395.7" x2="469.1" y2="395.7" stroke="#111111" stroke-width="1.3" />
<text x="428.7" y="392.5" font-size="9.2" font-weight="normal" text-anchor="middle" fill="#000" >p=0.019</text>
<line x1="472.9" y1="395.7" x2="553.3" y2="395.7" stroke="#111111" stroke-width="1.3" />
<text x="514.3" y="393.5" font-size="9.2" font-weight="normal" text-anchor="middle" fill="#000" >p=0.019</text>
<line x1="386" y1="410.3" x2="428.6" y2="410.3" stroke="#111111" stroke-width="1.3" />
<text x="409.5" y="407.7" font-size="9.2" font-weight="normal" text-anchor="middle" fill="#000" >p=0.019</text>
<line x1="435.3" y1="410.3" x2="554" y2="410.3" stroke="#111111" stroke-width="1.3" />
<text x="494.5" y="407.7" font-size="9.2" font-weight="normal" text-anchor="middle" fill="#000" >p=0.019</text>
<circle cx="377" cy="491" r="2.4" fill="#8a8a8a" stroke="#111111" stroke-width="1.2"/>
<circle cx="382.7" cy="491" r="2.4" fill="#8a8a8a" stroke="#111111" stroke-width="1.2"/>
<circle cx="388.4" cy="491" r="2.4" fill="#8a8a8a" stroke="#111111" stroke-width="1.2"/>
<circle cx="394.1" cy="491" r="2.4" fill="#8a8a8a" stroke="#111111" stroke-width="1.2"/>
<circle cx="399.8" cy="491" r="2.4" fill="#8a8a8a" stroke="#111111" stroke-width="1.2"/>
<circle cx="429.6" cy="446" r="2.95" fill="#9b6a24"/>
<rect x="428.4" y="446.5" width="2.4" height="0.9" fill="#fff" opacity="0.7"/>
<circle cx="420.4" cy="461.3" r="2.95" fill="#9b6a24"/>
<rect x="419.2" y="461.8" width="2.4" height="0.9" fill="#fff" opacity="0.7"/>
<circle cx="429.6" cy="461.3" r="2.95" fill="#9b6a24"/>
<rect x="428.4" y="461.8" width="2.4" height="0.9" fill="#fff" opacity="0.7"/>
<circle cx="438.4" cy="461.3" r="2.95" fill="#9b6a24"/>
<rect x="437.2" y="461.8" width="2.4" height="0.9" fill="#fff" opacity="0.7"/>
<circle cx="429.6" cy="476.1" r="2.95" fill="#9b6a24"/>
<rect x="428.4" y="476.6" width="2.4" height="0.9" fill="#fff" opacity="0.7"/>
<line x1="416.3" y1="458.7" x2="443.2" y2="458.7" stroke="#9b6a24" stroke-width="1.35" />
<circle cx="470.9" cy="446.2" r="2.95" fill="#e5654b"/>
<rect x="469.7" y="446.7" width="2.4" height="0.9" fill="#fff" opacity="0.7"/>
<circle cx="461.6" cy="461.3" r="2.95" fill="#e5654b"/>
<rect x="460.4" y="461.8" width="2.4" height="0.9" fill="#fff" opacity="0.7"/>
<circle cx="470.9" cy="461.3" r="2.95" fill="#e5654b"/>
<rect x="469.7" y="461.8" width="2.4" height="0.9" fill="#fff" opacity="0.7"/>
<circle cx="479.8" cy="461.3" r="2.95" fill="#e5654b"/>
<rect x="478.6" y="461.8" width="2.4" height="0.9" fill="#fff" opacity="0.7"/>
<circle cx="470.9" cy="476.1" r="2.95" fill="#e5654b"/>
<rect x="469.7" y="476.6" width="2.4" height="0.9" fill="#fff" opacity="0.7"/>
<line x1="457.2" y1="458.7" x2="485" y2="458.7" stroke="#e5654b" stroke-width="1.35" />
<circle cx="503.1" cy="431.4" r="2.95" fill="#2d4c57"/>
<rect x="501.9" y="431.9" width="2.4" height="0.9" fill="#fff" opacity="0.7"/>
<circle cx="520.5" cy="431.4" r="2.95" fill="#2d4c57"/>
<rect x="519.3" y="431.9" width="2.4" height="0.9" fill="#fff" opacity="0.7"/>
<circle cx="503.1" cy="476.1" r="2.95" fill="#2d4c57"/>
<rect x="501.9" y="476.6" width="2.4" height="0.9" fill="#fff" opacity="0.7"/>
<circle cx="511.8" cy="476.1" r="2.95" fill="#2d4c57"/>
<rect x="510.6" y="476.6" width="2.4" height="0.9" fill="#fff" opacity="0.7"/>
<circle cx="520.5" cy="476.1" r="2.95" fill="#2d4c57"/>
<rect x="519.3" y="476.6" width="2.4" height="0.9" fill="#fff" opacity="0.7"/>
<line x1="498.2" y1="447.3" x2="526" y2="447.3" stroke="#2d4c57" stroke-width="1.35" />
<circle cx="553.3" cy="416.5" r="2.95" fill="#5e1260"/>
<rect x="552.1" y="417" width="2.4" height="0.9" fill="#fff" opacity="0.7"/>
<circle cx="544.1" cy="431.4" r="2.95" fill="#5e1260"/>
<rect x="542.9" y="431.9" width="2.4" height="0.9" fill="#fff" opacity="0.7"/>
<circle cx="553.3" cy="431.4" r="2.95" fill="#5e1260"/>
<rect x="552.1" y="431.9" width="2.4" height="0.9" fill="#fff" opacity="0.7"/>
<circle cx="562.2" cy="431.4" r="2.95" fill="#5e1260"/>
<rect x="561" y="431.9" width="2.4" height="0.9" fill="#fff" opacity="0.7"/>
<circle cx="553.3" cy="446.2" r="2.95" fill="#5e1260"/>
<rect x="552.1" y="446.7" width="2.4" height="0.9" fill="#fff" opacity="0.7"/>
<line x1="539.1" y1="429.4" x2="566.9" y2="429.4" stroke="#5e1260" stroke-width="1.35" />
<line x1="64.7" y1="633.21" x2="69" y2="633.21" stroke="#111111" stroke-width="1.9" />
<line x1="64.7" y1="624.44" x2="69" y2="624.44" stroke="#111111" stroke-width="1.9" />
<line x1="64.7" y1="618.22" x2="69" y2="618.22" stroke="#111111" stroke-width="1.9" />
<line x1="64.7" y1="613.39" x2="69" y2="613.39" stroke="#111111" stroke-width="1.9" />
<line x1="64.7" y1="609.45" x2="69" y2="609.45" stroke="#111111" stroke-width="1.9" />
<line x1="64.7" y1="606.11" x2="69" y2="606.11" stroke="#111111" stroke-width="1.9" />
<line x1="64.7" y1="603.23" x2="69" y2="603.23" stroke="#111111" stroke-width="1.9" />
<line x1="64.7" y1="600.68" x2="69" y2="600.68" stroke="#111111" stroke-width="1.9" />
<line x1="64.7" y1="683.01" x2="69" y2="683.01" stroke="#111111" stroke-width="1.9" />
<line x1="64.7" y1="674.24" x2="69" y2="674.24" stroke="#111111" stroke-width="1.9" />
<line x1="64.7" y1="668.02" x2="69" y2="668.02" stroke="#111111" stroke-width="1.9" />
<line x1="64.7" y1="663.19" x2="69" y2="663.19" stroke="#111111" stroke-width="1.9" />
<line x1="64.7" y1="659.25" x2="69" y2="659.25" stroke="#111111" stroke-width="1.9" />
<line x1="64.7" y1="655.91" x2="69" y2="655.91" stroke="#111111" stroke-width="1.9" />
<line x1="64.7" y1="653.03" x2="69" y2="653.03" stroke="#111111" stroke-width="1.9" />
<line x1="64.7" y1="650.48" x2="69" y2="650.48" stroke="#111111" stroke-width="1.9" />
<line x1="64.7" y1="732.81" x2="69" y2="732.81" stroke="#111111" stroke-width="1.9" />
<line x1="64.7" y1="724.04" x2="69" y2="724.04" stroke="#111111" stroke-width="1.9" />
<line x1="64.7" y1="717.82" x2="69" y2="717.82" stroke="#111111" stroke-width="1.9" />
<line x1="64.7" y1="712.99" x2="69" y2="712.99" stroke="#111111" stroke-width="1.9" />
<line x1="64.7" y1="709.05" x2="69" y2="709.05" stroke="#111111" stroke-width="1.9" />
<line x1="64.7" y1="705.71" x2="69" y2="705.71" stroke="#111111" stroke-width="1.9" />
<line x1="64.7" y1="702.83" x2="69" y2="702.83" stroke="#111111" stroke-width="1.9" />
<line x1="64.7" y1="700.28" x2="69" y2="700.28" stroke="#111111" stroke-width="1.9" />
<line x1="62.7" y1="598.4" x2="69" y2="598.4" stroke="#111111" stroke-width="2.4" />
<text x="54.9" y="602.7" font-size="11.3" font-weight="bold" text-anchor="end" fill="#111" >10</text>
<text x="56.8" y="599" font-size="6.7" font-weight="bold" text-anchor="start" fill="#111" >4</text>
<line x1="62.7" y1="648.2" x2="69" y2="648.2" stroke="#111111" stroke-width="2.4" />
<text x="54.9" y="652.5" font-size="11.3" font-weight="bold" text-anchor="end" fill="#111" >10</text>
<text x="56.8" y="648.8" font-size="6.7" font-weight="bold" text-anchor="start" fill="#111" >3</text>
<line x1="62.7" y1="698" x2="69" y2="698" stroke="#111111" stroke-width="2.4" />
<text x="54.9" y="702.3" font-size="11.3" font-weight="bold" text-anchor="end" fill="#111" >10</text>
<text x="56.8" y="698.6" font-size="6.7" font-weight="bold" text-anchor="start" fill="#111" >2</text>
<line x1="62.7" y1="747.8" x2="69" y2="747.8" stroke="#111111" stroke-width="2.4" />
<text x="54.9" y="752.1" font-size="11.3" font-weight="bold" text-anchor="end" fill="#111" >10</text>
<text x="56.8" y="748.4" font-size="6.7" font-weight="bold" text-anchor="start" fill="#111" >1</text>
<line x1="69" y1="597.2" x2="69" y2="749.6" stroke="#111111" stroke-width="2.7" />
<line x1="67.7" y1="747.8" x2="290.1" y2="747.8" stroke="#111111" stroke-width="2.5" />
<line x1="96.6" y1="747.8" x2="96.6" y2="754.3" stroke="#111111" stroke-width="2.2" />
<line x1="138.1" y1="747.8" x2="138.1" y2="754.3" stroke="#111111" stroke-width="2.2" />
<line x1="179.6" y1="747.8" x2="179.6" y2="754.3" stroke="#111111" stroke-width="2.2" />
<line x1="220.6" y1="747.8" x2="220.6" y2="754.3" stroke="#111111" stroke-width="2.2" />
<line x1="262.1" y1="747.8" x2="262.1" y2="754.3" stroke="#111111" stroke-width="2.2" />
<text x="101.1" y="764.8" font-size="11" font-weight="bold" text-anchor="end" fill="#111" transform="rotate(-45 101.1 764.8)">PBS</text>
<text x="142.6" y="764.8" font-size="11" font-weight="bold" text-anchor="end" fill="#111" transform="rotate(-45 142.6 764.8)">dTK-L</text>
<text x="184.1" y="764.8" font-size="11" font-weight="bold" text-anchor="end" fill="#111" transform="rotate(-45 184.1 764.8)">dF4-L</text>
<text x="225.1" y="764.8" font-size="11" font-weight="bold" text-anchor="end" fill="#111" transform="rotate(-45 225.1 764.8)">dTF-L</text>
<text x="266.6" y="764.8" font-size="11" font-weight="bold" text-anchor="end" fill="#111" transform="rotate(-45 266.6 764.8)">dBTF-L</text>
<text x="35.2" y="670.2" font-size="11.4" font-weight="bold" text-anchor="middle" fill="#111" transform="rotate(-90 35.2 670.2)">IFN&#947; SFCs/10<tspan font-size="7.5" dy="-4">6</tspan><tspan dy="4"> cells</tspan></text>
<line x1="96" y1="583.3" x2="262.1" y2="583.3" stroke="#111111" stroke-width="1.3" />
<text x="175.2" y="579.9" font-size="9.2" font-weight="normal" text-anchor="middle" fill="#000" >p&lt;0.0001</text>
<line x1="96" y1="597.9" x2="221.2" y2="597.9" stroke="#111111" stroke-width="1.3" />
<text x="159.9" y="595.3" font-size="9.2" font-weight="normal" text-anchor="middle" fill="#000" >p&lt;0.0001</text>
<line x1="96" y1="612.3" x2="178.9" y2="612.3" stroke="#111111" stroke-width="1.3" />
<text x="140.2" y="609.5" font-size="9.2" font-weight="normal" text-anchor="middle" fill="#000" >p&lt;0.0001</text>
<line x1="96" y1="628.3" x2="139.6" y2="628.3" stroke="#111111" stroke-width="1.3" />
<text x="118" y="625.1" font-size="9.2" font-weight="normal" text-anchor="middle" fill="#000" >p&lt;0.0001</text>
<polyline points="222.9,633.7 222.9,628.7 261.7,628.7 261.7,633.7" fill="none" stroke="#111111" stroke-width="1.3"/>
<text x="242.3" y="624.9" font-size="9.8" font-weight="normal" text-anchor="middle" fill="#000" >ns</text>
<circle cx="96.6" cy="705.9" r="2.4" fill="#fff" stroke="#111111" stroke-width="1.2"/>
<circle cx="87.4" cy="733.1" r="2.4" fill="#fff" stroke="#111111" stroke-width="1.2"/>
<circle cx="96.6" cy="733.1" r="2.4" fill="#fff" stroke="#111111" stroke-width="1.2"/>
<circle cx="105.8" cy="733.1" r="2.4" fill="#fff" stroke="#111111" stroke-width="1.2"/>
<circle cx="96.6" cy="747.4" r="3" fill="#111111"/>
<line x1="83.4" y1="725.3" x2="110.3" y2="725.3" stroke="#555" stroke-width="1.5" />
<circle cx="129.3" cy="636.6" r="2.95" fill="#9b6a24"/>
<rect x="128.1" y="637.1" width="2.4" height="0.9" fill="#fff" opacity="0.7"/>
<circle cx="138.1" cy="639" r="2.95" fill="#9b6a24"/>
<rect x="136.9" y="639.5" width="2.4" height="0.9" fill="#fff" opacity="0.7"/>
<circle cx="147.1" cy="646.8" r="2.95" fill="#9b6a24"/>
<rect x="145.9" y="647.3" width="2.4" height="0.9" fill="#fff" opacity="0.7"/>
<circle cx="138.1" cy="648.9" r="2.95" fill="#9b6a24"/>
<rect x="136.9" y="649.4" width="2.4" height="0.9" fill="#fff" opacity="0.7"/>
<circle cx="138.1" cy="661.1" r="2.95" fill="#9b6a24"/>
<rect x="136.9" y="661.6" width="2.4" height="0.9" fill="#fff" opacity="0.7"/>
<line x1="124.2" y1="644.8" x2="151.8" y2="644.8" stroke="#9b6a24" stroke-width="1.35" />
<circle cx="179.6" cy="658.7" r="2.95" fill="#e5654b"/>
<rect x="178.4" y="659.2" width="2.4" height="0.9" fill="#fff" opacity="0.7"/>
<circle cx="170.1" cy="669" r="2.95" fill="#e5654b"/>
<rect x="168.9" y="669.5" width="2.4" height="0.9" fill="#fff" opacity="0.7"/>
<circle cx="188.3" cy="665.9" r="2.95" fill="#e5654b"/>
<rect x="187.1" y="666.4" width="2.4" height="0.9" fill="#fff" opacity="0.7"/>
<circle cx="179.6" cy="674.7" r="2.95" fill="#e5654b"/>
<rect x="178.4" y="675.2" width="2.4" height="0.9" fill="#fff" opacity="0.7"/>
<circle cx="179.6" cy="688.2" r="2.95" fill="#e5654b"/>
<rect x="178.4" y="688.7" width="2.4" height="0.9" fill="#fff" opacity="0.7"/>
<line x1="165.3" y1="669.2" x2="193.1" y2="669.2" stroke="#e5654b" stroke-width="1.35" />
<circle cx="212" cy="657.1" r="2.95" fill="#2d4c57"/>
<rect x="210.8" y="657.6" width="2.4" height="0.9" fill="#fff" opacity="0.7"/>
<circle cx="220.5" cy="658.7" r="2.95" fill="#2d4c57"/>
<rect x="219.3" y="659.2" width="2.4" height="0.9" fill="#fff" opacity="0.7"/>
<circle cx="212" cy="674.7" r="2.95" fill="#2d4c57"/>
<rect x="210.8" y="675.2" width="2.4" height="0.9" fill="#fff" opacity="0.7"/>
<circle cx="220.5" cy="670.3" r="2.95" fill="#2d4c57"/>
<rect x="219.3" y="670.8" width="2.4" height="0.9" fill="#fff" opacity="0.7"/>
<circle cx="229.9" cy="670.3" r="2.95" fill="#2d4c57"/>
<rect x="228.7" y="670.8" width="2.4" height="0.9" fill="#fff" opacity="0.7"/>
<line x1="206.9" y1="664.8" x2="234.7" y2="664.8" stroke="#2d4c57" stroke-width="1.35" />
<circle cx="252.9" cy="653.6" r="2.95" fill="#5e1260"/>
<rect x="251.7" y="654.1" width="2.4" height="0.9" fill="#fff" opacity="0.7"/>
<circle cx="271.1" cy="655.8" r="2.95" fill="#5e1260"/>
<rect x="269.9" y="656.3" width="2.4" height="0.9" fill="#fff" opacity="0.7"/>
<circle cx="262.1" cy="664.6" r="2.95" fill="#5e1260"/>
<rect x="260.9" y="665.1" width="2.4" height="0.9" fill="#fff" opacity="0.7"/>
<circle cx="262.1" cy="670.1" r="2.95" fill="#5e1260"/>
<rect x="260.9" y="670.6" width="2.4" height="0.9" fill="#fff" opacity="0.7"/>
<circle cx="262.1" cy="684.3" r="2.95" fill="#5e1260"/>
<rect x="260.9" y="684.8" width="2.4" height="0.9" fill="#fff" opacity="0.7"/>
<line x1="248.5" y1="663.1" x2="275.9" y2="663.1" stroke="#5e1260" stroke-width="1.35" />
<line x1="360" y1="630.14" x2="364.3" y2="630.14" stroke="#111111" stroke-width="1.9" />
<line x1="360" y1="621.39" x2="364.3" y2="621.39" stroke="#111111" stroke-width="1.9" />
<line x1="360" y1="615.18" x2="364.3" y2="615.18" stroke="#111111" stroke-width="1.9" />
<line x1="360" y1="610.36" x2="364.3" y2="610.36" stroke="#111111" stroke-width="1.9" />
<line x1="360" y1="606.43" x2="364.3" y2="606.43" stroke="#111111" stroke-width="1.9" />
<line x1="360" y1="603.1" x2="364.3" y2="603.1" stroke="#111111" stroke-width="1.9" />
<line x1="360" y1="600.22" x2="364.3" y2="600.22" stroke="#111111" stroke-width="1.9" />
<line x1="360" y1="597.67" x2="364.3" y2="597.67" stroke="#111111" stroke-width="1.9" />
<line x1="360" y1="679.84" x2="364.3" y2="679.84" stroke="#111111" stroke-width="1.9" />
<line x1="360" y1="671.09" x2="364.3" y2="671.09" stroke="#111111" stroke-width="1.9" />
<line x1="360" y1="664.88" x2="364.3" y2="664.88" stroke="#111111" stroke-width="1.9" />
<line x1="360" y1="660.06" x2="364.3" y2="660.06" stroke="#111111" stroke-width="1.9" />
<line x1="360" y1="656.13" x2="364.3" y2="656.13" stroke="#111111" stroke-width="1.9" />
<line x1="360" y1="652.8" x2="364.3" y2="652.8" stroke="#111111" stroke-width="1.9" />
<line x1="360" y1="649.92" x2="364.3" y2="649.92" stroke="#111111" stroke-width="1.9" />
<line x1="360" y1="647.37" x2="364.3" y2="647.37" stroke="#111111" stroke-width="1.9" />
<line x1="360" y1="729.54" x2="364.3" y2="729.54" stroke="#111111" stroke-width="1.9" />
<line x1="360" y1="720.79" x2="364.3" y2="720.79" stroke="#111111" stroke-width="1.9" />
<line x1="360" y1="714.58" x2="364.3" y2="714.58" stroke="#111111" stroke-width="1.9" />
<line x1="360" y1="709.76" x2="364.3" y2="709.76" stroke="#111111" stroke-width="1.9" />
<line x1="360" y1="705.83" x2="364.3" y2="705.83" stroke="#111111" stroke-width="1.9" />
<line x1="360" y1="702.5" x2="364.3" y2="702.5" stroke="#111111" stroke-width="1.9" />
<line x1="360" y1="699.62" x2="364.3" y2="699.62" stroke="#111111" stroke-width="1.9" />
<line x1="360" y1="697.07" x2="364.3" y2="697.07" stroke="#111111" stroke-width="1.9" />
<line x1="358" y1="595.4" x2="364.3" y2="595.4" stroke="#111111" stroke-width="2.4" />
<text x="350.4" y="599.7" font-size="11.3" font-weight="bold" text-anchor="end" fill="#111" >10</text>
<text x="352.4" y="596" font-size="6.7" font-weight="bold" text-anchor="start" fill="#111" >4</text>
<line x1="358" y1="645.1" x2="364.3" y2="645.1" stroke="#111111" stroke-width="2.4" />
<text x="350.4" y="649.4" font-size="11.3" font-weight="bold" text-anchor="end" fill="#111" >10</text>
<text x="352.4" y="645.7" font-size="6.7" font-weight="bold" text-anchor="start" fill="#111" >3</text>
<line x1="358" y1="694.8" x2="364.3" y2="694.8" stroke="#111111" stroke-width="2.4" />
<text x="350.4" y="699.1" font-size="11.3" font-weight="bold" text-anchor="end" fill="#111" >10</text>
<text x="352.4" y="695.4" font-size="6.7" font-weight="bold" text-anchor="start" fill="#111" >2</text>
<line x1="358" y1="744.5" x2="364.3" y2="744.5" stroke="#111111" stroke-width="2.4" />
<text x="350.4" y="748.8" font-size="11.3" font-weight="bold" text-anchor="end" fill="#111" >10</text>
<text x="352.4" y="745.1" font-size="6.7" font-weight="bold" text-anchor="start" fill="#111" >1</text>
<line x1="364.3" y1="594.2" x2="364.3" y2="746.3" stroke="#111111" stroke-width="2.7" />
<line x1="363" y1="744.5" x2="586.3" y2="744.5" stroke="#111111" stroke-width="2.5" />
<line x1="392.4" y1="744.5" x2="392.4" y2="751" stroke="#111111" stroke-width="2.2" />
<line x1="433.6" y1="744.5" x2="433.6" y2="751" stroke="#111111" stroke-width="2.2" />
<line x1="475" y1="744.5" x2="475" y2="751" stroke="#111111" stroke-width="2.2" />
<line x1="516.2" y1="744.5" x2="516.2" y2="751" stroke="#111111" stroke-width="2.2" />
<line x1="558.2" y1="744.5" x2="558.2" y2="751" stroke="#111111" stroke-width="2.2" />
<text x="396.9" y="761.5" font-size="11" font-weight="bold" text-anchor="end" fill="#111" transform="rotate(-45 396.9 761.5)">PBS</text>
<text x="438.1" y="761.5" font-size="11" font-weight="bold" text-anchor="end" fill="#111" transform="rotate(-45 438.1 761.5)">dTK-H</text>
<text x="479.5" y="761.5" font-size="11" font-weight="bold" text-anchor="end" fill="#111" transform="rotate(-45 479.5 761.5)">dF4-H</text>
<text x="520.7" y="761.5" font-size="11" font-weight="bold" text-anchor="end" fill="#111" transform="rotate(-45 520.7 761.5)">dTF-H</text>
<text x="562.7" y="761.5" font-size="11" font-weight="bold" text-anchor="end" fill="#111" transform="rotate(-45 562.7 761.5)">dBTF-H</text>
<text x="330.2" y="665.8" font-size="11.4" font-weight="bold" text-anchor="middle" fill="#111" transform="rotate(-90 330.2 665.8)">IFN&#947; SFCs/10<tspan font-size="7.5" dy="-4">6</tspan><tspan dy="4"> cells</tspan></text>
<line x1="392.8" y1="589.3" x2="559.3" y2="589.3" stroke="#111111" stroke-width="1.3" />
<text x="480.5" y="586.1" font-size="9.2" font-weight="normal" text-anchor="middle" fill="#000" >p&lt;0.0001</text>
<line x1="392.8" y1="602.2" x2="519.3" y2="602.2" stroke="#111111" stroke-width="1.3" />
<text x="458.6" y="599.4" font-size="9.2" font-weight="normal" text-anchor="middle" fill="#000" >p&lt;0.0001</text>
<line x1="392.8" y1="616" x2="475.7" y2="616" stroke="#111111" stroke-width="1.3" />
<text x="440.2" y="613" font-size="9.2" font-weight="normal" text-anchor="middle" fill="#000" >p&lt;0.0001</text>
<line x1="392.8" y1="629.3" x2="435.7" y2="629.3" stroke="#111111" stroke-width="1.3" />
<text x="414.5" y="626.9" font-size="9.2" font-weight="normal" text-anchor="middle" fill="#000" >p&lt;0.0001</text>
<polyline points="519.3,634.3 519.3,628.7 558.2,628.7 558.2,634.3" fill="none" stroke="#111111" stroke-width="1.3"/>
<text x="538.75" y="624.9" font-size="9.8" font-weight="normal" text-anchor="middle" fill="#000" >ns</text>
<circle cx="392.4" cy="702.4" r="2.4" fill="#fff" stroke="#111111" stroke-width="1.2"/>
<circle cx="383.2" cy="729.4" r="2.4" fill="#fff" stroke="#111111" stroke-width="1.2"/>
<circle cx="392.4" cy="729.4" r="2.4" fill="#fff" stroke="#111111" stroke-width="1.2"/>
<circle cx="401.6" cy="729.4" r="2.4" fill="#fff" stroke="#111111" stroke-width="1.2"/>
<circle cx="392.4" cy="744.1" r="3" fill="#111111"/>
<line x1="379.1" y1="722.3" x2="406.1" y2="722.3" stroke="#555" stroke-width="1.5" />
<circle cx="425.1" cy="636.8" r="2.95" fill="#9b6a24"/>
<rect x="423.9" y="637.3" width="2.4" height="0.9" fill="#fff" opacity="0.7"/>
<circle cx="433.6" cy="637.4" r="2.95" fill="#9b6a24"/>
<rect x="432.4" y="637.9" width="2.4" height="0.9" fill="#fff" opacity="0.7"/>
<circle cx="433.6" cy="649.1" r="2.95" fill="#9b6a24"/>
<rect x="432.4" y="649.6" width="2.4" height="0.9" fill="#fff" opacity="0.7"/>
<circle cx="442.8" cy="647.7" r="2.95" fill="#9b6a24"/>
<rect x="441.6" y="648.2" width="2.4" height="0.9" fill="#fff" opacity="0.7"/>
<circle cx="433.6" cy="654.8" r="2.95" fill="#9b6a24"/>
<rect x="432.4" y="655.3" width="2.4" height="0.9" fill="#fff" opacity="0.7"/>
<line x1="420" y1="644" x2="447.3" y2="644" stroke="#9b6a24" stroke-width="1.35" />
<circle cx="475" cy="647.7" r="2.95" fill="#e5654b"/>
<rect x="473.8" y="648.2" width="2.4" height="0.9" fill="#fff" opacity="0.7"/>
<circle cx="484.4" cy="655" r="2.95" fill="#e5654b"/>
<rect x="483.2" y="655.5" width="2.4" height="0.9" fill="#fff" opacity="0.7"/>
<circle cx="475" cy="657.6" r="2.95" fill="#e5654b"/>
<rect x="473.8" y="658.1" width="2.4" height="0.9" fill="#fff" opacity="0.7"/>
<circle cx="475" cy="663.1" r="2.95" fill="#e5654b"/>
<rect x="473.8" y="663.6" width="2.4" height="0.9" fill="#fff" opacity="0.7"/>
<circle cx="475" cy="671.2" r="2.95" fill="#e5654b"/>
<rect x="473.8" y="671.7" width="2.4" height="0.9" fill="#fff" opacity="0.7"/>
<line x1="461.5" y1="657.6" x2="488.6" y2="657.6" stroke="#e5654b" stroke-width="1.35" />
<circle cx="525.4" cy="645.1" r="2.95" fill="#2d4c57"/>
<rect x="524.2" y="645.6" width="2.4" height="0.9" fill="#fff" opacity="0.7"/>
<circle cx="516.2" cy="651.7" r="2.95" fill="#2d4c57"/>
<rect x="515" y="652.2" width="2.4" height="0.9" fill="#fff" opacity="0.7"/>
<circle cx="525.4" cy="653.6" r="2.95" fill="#2d4c57"/>
<rect x="524.2" y="654.1" width="2.4" height="0.9" fill="#fff" opacity="0.7"/>
<circle cx="516.2" cy="658" r="2.95" fill="#2d4c57"/>
<rect x="515" y="658.5" width="2.4" height="0.9" fill="#fff" opacity="0.7"/>
<circle cx="516.2" cy="667.9" r="2.95" fill="#2d4c57"/>
<rect x="515" y="668.4" width="2.4" height="0.9" fill="#fff" opacity="0.7"/>
<line x1="503.1" y1="653.9" x2="530.2" y2="653.9" stroke="#2d4c57" stroke-width="1.35" />
<circle cx="549" cy="649.3" r="2.95" fill="#5e1260"/>
<rect x="547.8" y="649.8" width="2.4" height="0.9" fill="#fff" opacity="0.7"/>
<circle cx="566.6" cy="647.1" r="2.95" fill="#5e1260"/>
<rect x="565.4" y="647.6" width="2.4" height="0.9" fill="#fff" opacity="0.7"/>
<circle cx="558.2" cy="652.1" r="2.95" fill="#5e1260"/>
<rect x="557" y="652.6" width="2.4" height="0.9" fill="#fff" opacity="0.7"/>
<circle cx="566.6" cy="652.8" r="2.95" fill="#5e1260"/>
<rect x="565.4" y="653.3" width="2.4" height="0.9" fill="#fff" opacity="0.7"/>
<circle cx="549" cy="657.1" r="2.95" fill="#5e1260"/>
<rect x="547.8" y="657.6" width="2.4" height="0.9" fill="#fff" opacity="0.7"/>
<line x1="544" y1="651.5" x2="571.8" y2="651.5" stroke="#5e1260" stroke-width="1.35" />
<line x1="56.5" y1="799" x2="56.5" y2="935.3" stroke="#111111" stroke-width="2.7" />
<line x1="55.2" y1="934.1" x2="258.4" y2="934.1" stroke="#111111" stroke-width="2.7" />
<line x1="50.5" y1="934.8" x2="56.5" y2="934.8" stroke="#111111" stroke-width="2.2" />
<text x="49.7" y="938.8" font-size="11.2" font-weight="bold" text-anchor="end" fill="#111" >60</text>
<line x1="50.5" y1="901.05" x2="56.5" y2="901.05" stroke="#111111" stroke-width="2.2" />
<text x="49.7" y="905.05" font-size="11.2" font-weight="bold" text-anchor="end" fill="#111" >80</text>
<line x1="50.5" y1="867.3" x2="56.5" y2="867.3" stroke="#111111" stroke-width="2.2" />
<text x="49.7" y="871.3" font-size="11.2" font-weight="bold" text-anchor="end" fill="#111" >100</text>
<line x1="50.5" y1="833.55" x2="56.5" y2="833.55" stroke="#111111" stroke-width="2.2" />
<text x="49.7" y="837.55" font-size="11.2" font-weight="bold" text-anchor="end" fill="#111" >120</text>
<line x1="50.5" y1="799.8" x2="56.5" y2="799.8" stroke="#111111" stroke-width="2.2" />
<text x="49.7" y="803.8" font-size="11.2" font-weight="bold" text-anchor="end" fill="#111" >140</text>
<line x1="56.4" y1="934.1" x2="56.4" y2="940.3" stroke="#111111" stroke-width="2.2" />
<text x="56.4" y="952.2" font-size="11.2" font-weight="bold" text-anchor="middle" fill="#111" >0</text>
<line x1="106.6" y1="934.1" x2="106.6" y2="940.3" stroke="#111111" stroke-width="2.2" />
<text x="106.6" y="952.2" font-size="11.2" font-weight="bold" text-anchor="middle" fill="#111" >5</text>
<line x1="156.8" y1="934.1" x2="156.8" y2="940.3" stroke="#111111" stroke-width="2.2" />
<text x="156.8" y="952.2" font-size="11.2" font-weight="bold" text-anchor="middle" fill="#111" >10</text>
<line x1="207" y1="934.1" x2="207" y2="940.3" stroke="#111111" stroke-width="2.2" />
<text x="207" y="952.2" font-size="11.2" font-weight="bold" text-anchor="middle" fill="#111" >15</text>
<line x1="257.2" y1="934.1" x2="257.2" y2="940.3" stroke="#111111" stroke-width="2.2" />
<text x="257.2" y="952.2" font-size="11.2" font-weight="bold" text-anchor="middle" fill="#111" >20</text>
<text x="157.8" y="971.5" font-size="11.2" font-weight="bold" text-anchor="middle" fill="#111" >days</text>
<text x="25.3" y="867.5" font-size="10.8" font-weight="bold" text-anchor="middle" fill="#111" transform="rotate(-90 25.3 867.5)">Body weight ( %)</text>
<line x1="66.44" y1="858.02" x2="66.44" y2="866.46" stroke="#9b6a24" stroke-width="1.1" />
<line x1="64.24" y1="858.02" x2="68.64" y2="858.02" stroke="#9b6a24" stroke-width="1.1" />
<line x1="64.24" y1="866.46" x2="68.64" y2="866.46" stroke="#9b6a24" stroke-width="1.1" />
<line x1="76.48" y1="855.49" x2="76.48" y2="863.92" stroke="#9b6a24" stroke-width="1.1" />
<line x1="74.28" y1="855.49" x2="78.68" y2="855.49" stroke="#9b6a24" stroke-width="1.1" />
<line x1="74.28" y1="863.92" x2="78.68" y2="863.92" stroke="#9b6a24" stroke-width="1.1" />
<line x1="86.52" y1="855.49" x2="86.52" y2="863.92" stroke="#9b6a24" stroke-width="1.1" />
<line x1="84.32" y1="855.49" x2="88.72" y2="855.49" stroke="#9b6a24" stroke-width="1.1" />
<line x1="84.32" y1="863.92" x2="88.72" y2="863.92" stroke="#9b6a24" stroke-width="1.1" />
<line x1="96.56" y1="854.64" x2="96.56" y2="863.08" stroke="#9b6a24" stroke-width="1.1" />
<line x1="94.36" y1="854.64" x2="98.76" y2="854.64" stroke="#9b6a24" stroke-width="1.1" />
<line x1="94.36" y1="863.08" x2="98.76" y2="863.08" stroke="#9b6a24" stroke-width="1.1" />
<line x1="106.6" y1="852.96" x2="106.6" y2="861.39" stroke="#9b6a24" stroke-width="1.1" />
<line x1="104.4" y1="852.96" x2="108.8" y2="852.96" stroke="#9b6a24" stroke-width="1.1" />
<line x1="104.4" y1="861.39" x2="108.8" y2="861.39" stroke="#9b6a24" stroke-width="1.1" />
<line x1="116.64" y1="856.33" x2="116.64" y2="864.77" stroke="#9b6a24" stroke-width="1.1" />
<line x1="114.44" y1="856.33" x2="118.84" y2="856.33" stroke="#9b6a24" stroke-width="1.1" />
<line x1="114.44" y1="864.77" x2="118.84" y2="864.77" stroke="#9b6a24" stroke-width="1.1" />
<line x1="126.68" y1="856.33" x2="126.68" y2="864.77" stroke="#9b6a24" stroke-width="1.1" />
<line x1="124.48" y1="856.33" x2="128.88" y2="856.33" stroke="#9b6a24" stroke-width="1.1" />
<line x1="124.48" y1="864.77" x2="128.88" y2="864.77" stroke="#9b6a24" stroke-width="1.1" />
<line x1="136.72" y1="857.17" x2="136.72" y2="865.61" stroke="#9b6a24" stroke-width="1.1" />
<line x1="134.52" y1="857.17" x2="138.92" y2="857.17" stroke="#9b6a24" stroke-width="1.1" />
<line x1="134.52" y1="865.61" x2="138.92" y2="865.61" stroke="#9b6a24" stroke-width="1.1" />
<line x1="146.76" y1="854.64" x2="146.76" y2="863.08" stroke="#9b6a24" stroke-width="1.1" />
<line x1="144.56" y1="854.64" x2="148.96" y2="854.64" stroke="#9b6a24" stroke-width="1.1" />
<line x1="144.56" y1="863.08" x2="148.96" y2="863.08" stroke="#9b6a24" stroke-width="1.1" />
<line x1="156.8" y1="854.64" x2="156.8" y2="863.08" stroke="#9b6a24" stroke-width="1.1" />
<line x1="154.6" y1="854.64" x2="159" y2="854.64" stroke="#9b6a24" stroke-width="1.1" />
<line x1="154.6" y1="863.08" x2="159" y2="863.08" stroke="#9b6a24" stroke-width="1.1" />
<line x1="166.84" y1="856.33" x2="166.84" y2="864.77" stroke="#9b6a24" stroke-width="1.1" />
<line x1="164.64" y1="856.33" x2="169.04" y2="856.33" stroke="#9b6a24" stroke-width="1.1" />
<line x1="164.64" y1="864.77" x2="169.04" y2="864.77" stroke="#9b6a24" stroke-width="1.1" />
<line x1="176.88" y1="852.96" x2="176.88" y2="861.39" stroke="#9b6a24" stroke-width="1.1" />
<line x1="174.68" y1="852.96" x2="179.08" y2="852.96" stroke="#9b6a24" stroke-width="1.1" />
<line x1="174.68" y1="861.39" x2="179.08" y2="861.39" stroke="#9b6a24" stroke-width="1.1" />
<line x1="186.92" y1="852.96" x2="186.92" y2="861.39" stroke="#9b6a24" stroke-width="1.1" />
<line x1="184.72" y1="852.96" x2="189.12" y2="852.96" stroke="#9b6a24" stroke-width="1.1" />
<line x1="184.72" y1="861.39" x2="189.12" y2="861.39" stroke="#9b6a24" stroke-width="1.1" />
<line x1="196.96" y1="856.33" x2="196.96" y2="864.77" stroke="#9b6a24" stroke-width="1.1" />
<line x1="194.76" y1="856.33" x2="199.16" y2="856.33" stroke="#9b6a24" stroke-width="1.1" />
<line x1="194.76" y1="864.77" x2="199.16" y2="864.77" stroke="#9b6a24" stroke-width="1.1" />
<line x1="207" y1="854.64" x2="207" y2="863.08" stroke="#9b6a24" stroke-width="1.1" />
<line x1="204.8" y1="854.64" x2="209.2" y2="854.64" stroke="#9b6a24" stroke-width="1.1" />
<line x1="204.8" y1="863.08" x2="209.2" y2="863.08" stroke="#9b6a24" stroke-width="1.1" />
<line x1="217.04" y1="852.96" x2="217.04" y2="861.39" stroke="#9b6a24" stroke-width="1.1" />
<line x1="214.84" y1="852.96" x2="219.24" y2="852.96" stroke="#9b6a24" stroke-width="1.1" />
<line x1="214.84" y1="861.39" x2="219.24" y2="861.39" stroke="#9b6a24" stroke-width="1.1" />
<line x1="227.08" y1="846.21" x2="227.08" y2="854.64" stroke="#9b6a24" stroke-width="1.1" />
<line x1="224.88" y1="846.21" x2="229.28" y2="846.21" stroke="#9b6a24" stroke-width="1.1" />
<line x1="224.88" y1="854.64" x2="229.28" y2="854.64" stroke="#9b6a24" stroke-width="1.1" />
<line x1="237.12" y1="849.58" x2="237.12" y2="858.02" stroke="#9b6a24" stroke-width="1.1" />
<line x1="234.92" y1="849.58" x2="239.32" y2="849.58" stroke="#9b6a24" stroke-width="1.1" />
<line x1="234.92" y1="858.02" x2="239.32" y2="858.02" stroke="#9b6a24" stroke-width="1.1" />
<line x1="247.16" y1="851.27" x2="247.16" y2="859.71" stroke="#9b6a24" stroke-width="1.1" />
<line x1="244.96" y1="851.27" x2="249.36" y2="851.27" stroke="#9b6a24" stroke-width="1.1" />
<line x1="244.96" y1="859.71" x2="249.36" y2="859.71" stroke="#9b6a24" stroke-width="1.1" />
<polyline points="56.4,867.3 66.44,862.24 76.48,859.71 86.52,859.71 96.56,858.86 106.6,857.17 116.64,860.55 126.68,860.55 136.72,861.39 146.76,858.86 156.8,858.86 166.84,860.55 176.88,857.17 186.92,857.17 196.96,860.55 207,858.86 217.04,857.17 227.08,850.42 237.12,853.8 247.16,855.49" fill="none" stroke="#9b6a24" stroke-width="1.5"/>
<rect x="53.8" y="864.7" width="5.2" height="5.2" fill="#9b6a24"/>
<rect x="63.84" y="859.64" width="5.2" height="5.2" fill="#9b6a24"/>
<rect x="73.88" y="857.11" width="5.2" height="5.2" fill="#9b6a24"/>
<rect x="83.92" y="857.11" width="5.2" height="5.2" fill="#9b6a24"/>
<rect x="93.96" y="856.26" width="5.2" height="5.2" fill="#9b6a24"/>
<rect x="104" y="854.57" width="5.2" height="5.2" fill="#9b6a24"/>
<rect x="114.04" y="857.95" width="5.2" height="5.2" fill="#9b6a24"/>
<rect x="124.08" y="857.95" width="5.2" height="5.2" fill="#9b6a24"/>
<rect x="134.12" y="858.79" width="5.2" height="5.2" fill="#9b6a24"/>
<rect x="144.16" y="856.26" width="5.2" height="5.2" fill="#9b6a24"/>
<rect x="154.2" y="856.26" width="5.2" height="5.2" fill="#9b6a24"/>
<rect x="164.24" y="857.95" width="5.2" height="5.2" fill="#9b6a24"/>
<rect x="174.28" y="854.57" width="5.2" height="5.2" fill="#9b6a24"/>
<rect x="184.32" y="854.57" width="5.2" height="5.2" fill="#9b6a24"/>
<rect x="194.36" y="857.95" width="5.2" height="5.2" fill="#9b6a24"/>
<rect x="204.4" y="856.26" width="5.2" height="5.2" fill="#9b6a24"/>
<rect x="214.44" y="854.57" width="5.2" height="5.2" fill="#9b6a24"/>
<rect x="224.48" y="847.82" width="5.2" height="5.2" fill="#9b6a24"/>
<rect x="234.52" y="851.2" width="5.2" height="5.2" fill="#9b6a24"/>
<rect x="244.56" y="852.89" width="5.2" height="5.2" fill="#9b6a24"/>
<line x1="66.44" y1="849.58" x2="66.44" y2="858.02" stroke="#e5654b" stroke-width="1.1" />
<line x1="64.24" y1="849.58" x2="68.64" y2="849.58" stroke="#e5654b" stroke-width="1.1" />
<line x1="64.24" y1="858.02" x2="68.64" y2="858.02" stroke="#e5654b" stroke-width="1.1" />
<line x1="76.48" y1="847.89" x2="76.48" y2="856.33" stroke="#e5654b" stroke-width="1.1" />
<line x1="74.28" y1="847.89" x2="78.68" y2="847.89" stroke="#e5654b" stroke-width="1.1" />
<line x1="74.28" y1="856.33" x2="78.68" y2="856.33" stroke="#e5654b" stroke-width="1.1" />
<line x1="86.52" y1="852.96" x2="86.52" y2="861.39" stroke="#e5654b" stroke-width="1.1" />
<line x1="84.32" y1="852.96" x2="88.72" y2="852.96" stroke="#e5654b" stroke-width="1.1" />
<line x1="84.32" y1="861.39" x2="88.72" y2="861.39" stroke="#e5654b" stroke-width="1.1" />
<line x1="96.56" y1="851.27" x2="96.56" y2="859.71" stroke="#e5654b" stroke-width="1.1" />
<line x1="94.36" y1="851.27" x2="98.76" y2="851.27" stroke="#e5654b" stroke-width="1.1" />
<line x1="94.36" y1="859.71" x2="98.76" y2="859.71" stroke="#e5654b" stroke-width="1.1" />
<line x1="106.6" y1="850.42" x2="106.6" y2="858.86" stroke="#e5654b" stroke-width="1.1" />
<line x1="104.4" y1="850.42" x2="108.8" y2="850.42" stroke="#e5654b" stroke-width="1.1" />
<line x1="104.4" y1="858.86" x2="108.8" y2="858.86" stroke="#e5654b" stroke-width="1.1" />
<line x1="116.64" y1="852.96" x2="116.64" y2="861.39" stroke="#e5654b" stroke-width="1.1" />
<line x1="114.44" y1="852.96" x2="118.84" y2="852.96" stroke="#e5654b" stroke-width="1.1" />
<line x1="114.44" y1="861.39" x2="118.84" y2="861.39" stroke="#e5654b" stroke-width="1.1" />
<line x1="126.68" y1="852.96" x2="126.68" y2="861.39" stroke="#e5654b" stroke-width="1.1" />
<line x1="124.48" y1="852.96" x2="128.88" y2="852.96" stroke="#e5654b" stroke-width="1.1" />
<line x1="124.48" y1="861.39" x2="128.88" y2="861.39" stroke="#e5654b" stroke-width="1.1" />
<line x1="136.72" y1="852.96" x2="136.72" y2="861.39" stroke="#e5654b" stroke-width="1.1" />
<line x1="134.52" y1="852.96" x2="138.92" y2="852.96" stroke="#e5654b" stroke-width="1.1" />
<line x1="134.52" y1="861.39" x2="138.92" y2="861.39" stroke="#e5654b" stroke-width="1.1" />
<line x1="146.76" y1="852.11" x2="146.76" y2="860.55" stroke="#e5654b" stroke-width="1.1" />
<line x1="144.56" y1="852.11" x2="148.96" y2="852.11" stroke="#e5654b" stroke-width="1.1" />
<line x1="144.56" y1="860.55" x2="148.96" y2="860.55" stroke="#e5654b" stroke-width="1.1" />
<line x1="156.8" y1="849.24" x2="156.8" y2="857.68" stroke="#e5654b" stroke-width="1.1" />
<line x1="154.6" y1="849.24" x2="159" y2="849.24" stroke="#e5654b" stroke-width="1.1" />
<line x1="154.6" y1="857.68" x2="159" y2="857.68" stroke="#e5654b" stroke-width="1.1" />
<line x1="166.84" y1="848.57" x2="166.84" y2="857.01" stroke="#e5654b" stroke-width="1.1" />
<line x1="164.64" y1="848.57" x2="169.04" y2="848.57" stroke="#e5654b" stroke-width="1.1" />
<line x1="164.64" y1="857.01" x2="169.04" y2="857.01" stroke="#e5654b" stroke-width="1.1" />
<line x1="176.88" y1="847.72" x2="176.88" y2="856.16" stroke="#e5654b" stroke-width="1.1" />
<line x1="174.68" y1="847.72" x2="179.08" y2="847.72" stroke="#e5654b" stroke-width="1.1" />
<line x1="174.68" y1="856.16" x2="179.08" y2="856.16" stroke="#e5654b" stroke-width="1.1" />
<line x1="186.92" y1="845.36" x2="186.92" y2="853.8" stroke="#e5654b" stroke-width="1.1" />
<line x1="184.72" y1="845.36" x2="189.12" y2="845.36" stroke="#e5654b" stroke-width="1.1" />
<line x1="184.72" y1="853.8" x2="189.12" y2="853.8" stroke="#e5654b" stroke-width="1.1" />
<line x1="196.96" y1="847.89" x2="196.96" y2="856.33" stroke="#e5654b" stroke-width="1.1" />
<line x1="194.76" y1="847.89" x2="199.16" y2="847.89" stroke="#e5654b" stroke-width="1.1" />
<line x1="194.76" y1="856.33" x2="199.16" y2="856.33" stroke="#e5654b" stroke-width="1.1" />
<line x1="207" y1="846.21" x2="207" y2="854.64" stroke="#e5654b" stroke-width="1.1" />
<line x1="204.8" y1="846.21" x2="209.2" y2="846.21" stroke="#e5654b" stroke-width="1.1" />
<line x1="204.8" y1="854.64" x2="209.2" y2="854.64" stroke="#e5654b" stroke-width="1.1" />
<line x1="217.04" y1="845.36" x2="217.04" y2="853.8" stroke="#e5654b" stroke-width="1.1" />
<line x1="214.84" y1="845.36" x2="219.24" y2="845.36" stroke="#e5654b" stroke-width="1.1" />
<line x1="214.84" y1="853.8" x2="219.24" y2="853.8" stroke="#e5654b" stroke-width="1.1" />
<line x1="227.08" y1="838.11" x2="227.08" y2="846.54" stroke="#e5654b" stroke-width="1.1" />
<line x1="224.88" y1="838.11" x2="229.28" y2="838.11" stroke="#e5654b" stroke-width="1.1" />
<line x1="224.88" y1="846.54" x2="229.28" y2="846.54" stroke="#e5654b" stroke-width="1.1" />
<line x1="237.12" y1="839.62" x2="237.12" y2="848.06" stroke="#e5654b" stroke-width="1.1" />
<line x1="234.92" y1="839.62" x2="239.32" y2="839.62" stroke="#e5654b" stroke-width="1.1" />
<line x1="234.92" y1="848.06" x2="239.32" y2="848.06" stroke="#e5654b" stroke-width="1.1" />
<line x1="247.16" y1="840.47" x2="247.16" y2="848.91" stroke="#e5654b" stroke-width="1.1" />
<line x1="244.96" y1="840.47" x2="249.36" y2="840.47" stroke="#e5654b" stroke-width="1.1" />
<line x1="244.96" y1="848.91" x2="249.36" y2="848.91" stroke="#e5654b" stroke-width="1.1" />
<polyline points="56.4,867.3 66.44,853.8 76.48,852.11 86.52,857.17 96.56,855.49 106.6,854.64 116.64,857.17 126.68,857.17 136.72,857.17 146.76,856.33 156.8,853.46 166.84,852.79 176.88,851.94 186.92,849.58 196.96,852.11 207,850.42 217.04,849.58 227.08,842.32 237.12,843.84 247.16,844.69" fill="none" stroke="#e5654b" stroke-width="1.4"/>
<path d="M56.4,864.7 L59,869.3 L53.8,869.3 Z" fill="#e5654b"/>
<path d="M66.44,851.2 L69.04,855.8 L63.84,855.8 Z" fill="#e5654b"/>
<path d="M76.48,849.51 L79.08,854.11 L73.88,854.11 Z" fill="#e5654b"/>
<path d="M86.52,854.57 L89.12,859.17 L83.92,859.17 Z" fill="#e5654b"/>
<path d="M96.56,852.89 L99.16,857.49 L93.96,857.49 Z" fill="#e5654b"/>
<path d="M106.6,852.04 L109.2,856.64 L104,856.64 Z" fill="#e5654b"/>
<path d="M116.64,854.57 L119.24,859.17 L114.04,859.17 Z" fill="#e5654b"/>
<path d="M126.68,854.57 L129.28,859.17 L124.08,859.17 Z" fill="#e5654b"/>
<path d="M136.72,854.57 L139.32,859.17 L134.12,859.17 Z" fill="#e5654b"/>
<path d="M146.76,853.73 L149.36,858.33 L144.16,858.33 Z" fill="#e5654b"/>
<path d="M156.8,850.86 L159.4,855.46 L154.2,855.46 Z" fill="#e5654b"/>
<path d="M166.84,850.19 L169.44,854.79 L164.24,854.79 Z" fill="#e5654b"/>
<path d="M176.88,849.34 L179.48,853.94 L174.28,853.94 Z" fill="#e5654b"/>
<path d="M186.92,846.98 L189.52,851.58 L184.32,851.58 Z" fill="#e5654b"/>
<path d="M196.96,849.51 L199.56,854.11 L194.36,854.11 Z" fill="#e5654b"/>
<path d="M207,847.82 L209.6,852.42 L204.4,852.42 Z" fill="#e5654b"/>
<path d="M217.04,846.98 L219.64,851.58 L214.44,851.58 Z" fill="#e5654b"/>
<path d="M227.08,839.72 L229.68,844.32 L224.48,844.32 Z" fill="#e5654b"/>
<path d="M237.12,841.24 L239.72,845.84 L234.52,845.84 Z" fill="#e5654b"/>
<path d="M247.16,842.09 L249.76,846.69 L244.56,846.69 Z" fill="#e5654b"/>
<line x1="66.44" y1="845.87" x2="66.44" y2="854.31" stroke="#2d4c57" stroke-width="1.1" />
<line x1="64.24" y1="845.87" x2="68.64" y2="845.87" stroke="#2d4c57" stroke-width="1.1" />
<line x1="64.24" y1="854.31" x2="68.64" y2="854.31" stroke="#2d4c57" stroke-width="1.1" />
<line x1="76.48" y1="846.21" x2="76.48" y2="854.64" stroke="#2d4c57" stroke-width="1.1" />
<line x1="74.28" y1="846.21" x2="78.68" y2="846.21" stroke="#2d4c57" stroke-width="1.1" />
<line x1="74.28" y1="854.64" x2="78.68" y2="854.64" stroke="#2d4c57" stroke-width="1.1" />
<line x1="86.52" y1="847.89" x2="86.52" y2="856.33" stroke="#2d4c57" stroke-width="1.1" />
<line x1="84.32" y1="847.89" x2="88.72" y2="847.89" stroke="#2d4c57" stroke-width="1.1" />
<line x1="84.32" y1="856.33" x2="88.72" y2="856.33" stroke="#2d4c57" stroke-width="1.1" />
<line x1="96.56" y1="848.74" x2="96.56" y2="857.17" stroke="#2d4c57" stroke-width="1.1" />
<line x1="94.36" y1="848.74" x2="98.76" y2="848.74" stroke="#2d4c57" stroke-width="1.1" />
<line x1="94.36" y1="857.17" x2="98.76" y2="857.17" stroke="#2d4c57" stroke-width="1.1" />
<line x1="106.6" y1="847.89" x2="106.6" y2="856.33" stroke="#2d4c57" stroke-width="1.1" />
<line x1="104.4" y1="847.89" x2="108.8" y2="847.89" stroke="#2d4c57" stroke-width="1.1" />
<line x1="104.4" y1="856.33" x2="108.8" y2="856.33" stroke="#2d4c57" stroke-width="1.1" />
<line x1="116.64" y1="850.42" x2="116.64" y2="858.86" stroke="#2d4c57" stroke-width="1.1" />
<line x1="114.44" y1="850.42" x2="118.84" y2="850.42" stroke="#2d4c57" stroke-width="1.1" />
<line x1="114.44" y1="858.86" x2="118.84" y2="858.86" stroke="#2d4c57" stroke-width="1.1" />
<line x1="126.68" y1="848.74" x2="126.68" y2="857.17" stroke="#2d4c57" stroke-width="1.1" />
<line x1="124.48" y1="848.74" x2="128.88" y2="848.74" stroke="#2d4c57" stroke-width="1.1" />
<line x1="124.48" y1="857.17" x2="128.88" y2="857.17" stroke="#2d4c57" stroke-width="1.1" />
<line x1="136.72" y1="847.05" x2="136.72" y2="855.49" stroke="#2d4c57" stroke-width="1.1" />
<line x1="134.52" y1="847.05" x2="138.92" y2="847.05" stroke="#2d4c57" stroke-width="1.1" />
<line x1="134.52" y1="855.49" x2="138.92" y2="855.49" stroke="#2d4c57" stroke-width="1.1" />
<line x1="146.76" y1="845.36" x2="146.76" y2="853.8" stroke="#2d4c57" stroke-width="1.1" />
<line x1="144.56" y1="845.36" x2="148.96" y2="845.36" stroke="#2d4c57" stroke-width="1.1" />
<line x1="144.56" y1="853.8" x2="148.96" y2="853.8" stroke="#2d4c57" stroke-width="1.1" />
<line x1="156.8" y1="845.36" x2="156.8" y2="853.8" stroke="#2d4c57" stroke-width="1.1" />
<line x1="154.6" y1="845.36" x2="159" y2="845.36" stroke="#2d4c57" stroke-width="1.1" />
<line x1="154.6" y1="853.8" x2="159" y2="853.8" stroke="#2d4c57" stroke-width="1.1" />
<line x1="166.84" y1="846.88" x2="166.84" y2="855.32" stroke="#2d4c57" stroke-width="1.1" />
<line x1="164.64" y1="846.88" x2="169.04" y2="846.88" stroke="#2d4c57" stroke-width="1.1" />
<line x1="164.64" y1="855.32" x2="169.04" y2="855.32" stroke="#2d4c57" stroke-width="1.1" />
<line x1="176.88" y1="841.31" x2="176.88" y2="849.75" stroke="#2d4c57" stroke-width="1.1" />
<line x1="174.68" y1="841.31" x2="179.08" y2="841.31" stroke="#2d4c57" stroke-width="1.1" />
<line x1="174.68" y1="849.75" x2="179.08" y2="849.75" stroke="#2d4c57" stroke-width="1.1" />
<line x1="186.92" y1="840.47" x2="186.92" y2="848.91" stroke="#2d4c57" stroke-width="1.1" />
<line x1="184.72" y1="840.47" x2="189.12" y2="840.47" stroke="#2d4c57" stroke-width="1.1" />
<line x1="184.72" y1="848.91" x2="189.12" y2="848.91" stroke="#2d4c57" stroke-width="1.1" />
<line x1="196.96" y1="845.36" x2="196.96" y2="853.8" stroke="#2d4c57" stroke-width="1.1" />
<line x1="194.76" y1="845.36" x2="199.16" y2="845.36" stroke="#2d4c57" stroke-width="1.1" />
<line x1="194.76" y1="853.8" x2="199.16" y2="853.8" stroke="#2d4c57" stroke-width="1.1" />
<line x1="207" y1="843.67" x2="207" y2="852.11" stroke="#2d4c57" stroke-width="1.1" />
<line x1="204.8" y1="843.67" x2="209.2" y2="843.67" stroke="#2d4c57" stroke-width="1.1" />
<line x1="204.8" y1="852.11" x2="209.2" y2="852.11" stroke="#2d4c57" stroke-width="1.1" />
<line x1="217.04" y1="843.67" x2="217.04" y2="852.11" stroke="#2d4c57" stroke-width="1.1" />
<line x1="214.84" y1="843.67" x2="219.24" y2="843.67" stroke="#2d4c57" stroke-width="1.1" />
<line x1="214.84" y1="852.11" x2="219.24" y2="852.11" stroke="#2d4c57" stroke-width="1.1" />
<line x1="227.08" y1="835.24" x2="227.08" y2="843.67" stroke="#2d4c57" stroke-width="1.1" />
<line x1="224.88" y1="835.24" x2="229.28" y2="835.24" stroke="#2d4c57" stroke-width="1.1" />
<line x1="224.88" y1="843.67" x2="229.28" y2="843.67" stroke="#2d4c57" stroke-width="1.1" />
<line x1="237.12" y1="837.09" x2="237.12" y2="845.53" stroke="#2d4c57" stroke-width="1.1" />
<line x1="234.92" y1="837.09" x2="239.32" y2="837.09" stroke="#2d4c57" stroke-width="1.1" />
<line x1="234.92" y1="845.53" x2="239.32" y2="845.53" stroke="#2d4c57" stroke-width="1.1" />
<line x1="247.16" y1="841.99" x2="247.16" y2="850.42" stroke="#2d4c57" stroke-width="1.1" />
<line x1="244.96" y1="841.99" x2="249.36" y2="841.99" stroke="#2d4c57" stroke-width="1.1" />
<line x1="244.96" y1="850.42" x2="249.36" y2="850.42" stroke="#2d4c57" stroke-width="1.1" />
<polyline points="56.4,867.3 66.44,850.09 76.48,850.42 86.52,852.11 96.56,852.96 106.6,852.11 116.64,854.64 126.68,852.96 136.72,851.27 146.76,849.58 156.8,849.58 166.84,851.1 176.88,845.53 186.92,844.69 196.96,849.58 207,847.89 217.04,847.89 227.08,839.46 237.12,841.31 247.16,846.21" fill="none" stroke="#2d4c57" stroke-width="1.4"/>
<path d="M56.4,869.9 L59,865.3 L53.8,865.3 Z" fill="#2d4c57"/>
<path d="M66.44,852.69 L69.04,848.09 L63.84,848.09 Z" fill="#2d4c57"/>
<path d="M76.48,853.02 L79.08,848.42 L73.88,848.42 Z" fill="#2d4c57"/>
<path d="M86.52,854.71 L89.12,850.11 L83.92,850.11 Z" fill="#2d4c57"/>
<path d="M96.56,855.56 L99.16,850.96 L93.96,850.96 Z" fill="#2d4c57"/>
<path d="M106.6,854.71 L109.2,850.11 L104,850.11 Z" fill="#2d4c57"/>
<path d="M116.64,857.24 L119.24,852.64 L114.04,852.64 Z" fill="#2d4c57"/>
<path d="M126.68,855.56 L129.28,850.96 L124.08,850.96 Z" fill="#2d4c57"/>
<path d="M136.72,853.87 L139.32,849.27 L134.12,849.27 Z" fill="#2d4c57"/>
<path d="M146.76,852.18 L149.36,847.58 L144.16,847.58 Z" fill="#2d4c57"/>
<path d="M156.8,852.18 L159.4,847.58 L154.2,847.58 Z" fill="#2d4c57"/>
<path d="M166.84,853.7 L169.44,849.1 L164.24,849.1 Z" fill="#2d4c57"/>
<path d="M176.88,848.13 L179.48,843.53 L174.28,843.53 Z" fill="#2d4c57"/>
<path d="M186.92,847.29 L189.52,842.69 L184.32,842.69 Z" fill="#2d4c57"/>
<path d="M196.96,852.18 L199.56,847.58 L194.36,847.58 Z" fill="#2d4c57"/>
<path d="M207,850.49 L209.6,845.89 L204.4,845.89 Z" fill="#2d4c57"/>
<path d="M217.04,850.49 L219.64,845.89 L214.44,845.89 Z" fill="#2d4c57"/>
<path d="M227.08,842.06 L229.68,837.46 L224.48,837.46 Z" fill="#2d4c57"/>
<path d="M237.12,843.91 L239.72,839.31 L234.52,839.31 Z" fill="#2d4c57"/>
<path d="M247.16,848.81 L249.76,844.21 L244.56,844.21 Z" fill="#2d4c57"/>
<line x1="66.44" y1="839.62" x2="66.44" y2="848.4" stroke="#5e1260" stroke-width="1.1" />
<line x1="64.24" y1="839.62" x2="68.64" y2="839.62" stroke="#5e1260" stroke-width="1.1" />
<line x1="64.24" y1="848.4" x2="68.64" y2="848.4" stroke="#5e1260" stroke-width="1.1" />
<line x1="76.48" y1="839.29" x2="76.48" y2="848.06" stroke="#5e1260" stroke-width="1.1" />
<line x1="74.28" y1="839.29" x2="78.68" y2="839.29" stroke="#5e1260" stroke-width="1.1" />
<line x1="74.28" y1="848.06" x2="78.68" y2="848.06" stroke="#5e1260" stroke-width="1.1" />
<line x1="86.52" y1="844.18" x2="86.52" y2="852.96" stroke="#5e1260" stroke-width="1.1" />
<line x1="84.32" y1="844.18" x2="88.72" y2="844.18" stroke="#5e1260" stroke-width="1.1" />
<line x1="84.32" y1="852.96" x2="88.72" y2="852.96" stroke="#5e1260" stroke-width="1.1" />
<line x1="96.56" y1="842.66" x2="96.56" y2="851.44" stroke="#5e1260" stroke-width="1.1" />
<line x1="94.36" y1="842.66" x2="98.76" y2="842.66" stroke="#5e1260" stroke-width="1.1" />
<line x1="94.36" y1="851.44" x2="98.76" y2="851.44" stroke="#5e1260" stroke-width="1.1" />
<line x1="106.6" y1="843.67" x2="106.6" y2="852.45" stroke="#5e1260" stroke-width="1.1" />
<line x1="104.4" y1="843.67" x2="108.8" y2="843.67" stroke="#5e1260" stroke-width="1.1" />
<line x1="104.4" y1="852.45" x2="108.8" y2="852.45" stroke="#5e1260" stroke-width="1.1" />
<line x1="116.64" y1="842.83" x2="116.64" y2="851.61" stroke="#5e1260" stroke-width="1.1" />
<line x1="114.44" y1="842.83" x2="118.84" y2="842.83" stroke="#5e1260" stroke-width="1.1" />
<line x1="114.44" y1="851.61" x2="118.84" y2="851.61" stroke="#5e1260" stroke-width="1.1" />
<line x1="126.68" y1="842.66" x2="126.68" y2="851.44" stroke="#5e1260" stroke-width="1.1" />
<line x1="124.48" y1="842.66" x2="128.88" y2="842.66" stroke="#5e1260" stroke-width="1.1" />
<line x1="124.48" y1="851.44" x2="128.88" y2="851.44" stroke="#5e1260" stroke-width="1.1" />
<line x1="136.72" y1="841.48" x2="136.72" y2="850.26" stroke="#5e1260" stroke-width="1.1" />
<line x1="134.52" y1="841.48" x2="138.92" y2="841.48" stroke="#5e1260" stroke-width="1.1" />
<line x1="134.52" y1="850.26" x2="138.92" y2="850.26" stroke="#5e1260" stroke-width="1.1" />
<line x1="146.76" y1="840.97" x2="146.76" y2="849.75" stroke="#5e1260" stroke-width="1.1" />
<line x1="144.56" y1="840.97" x2="148.96" y2="840.97" stroke="#5e1260" stroke-width="1.1" />
<line x1="144.56" y1="849.75" x2="148.96" y2="849.75" stroke="#5e1260" stroke-width="1.1" />
<line x1="156.8" y1="841.99" x2="156.8" y2="850.76" stroke="#5e1260" stroke-width="1.1" />
<line x1="154.6" y1="841.99" x2="159" y2="841.99" stroke="#5e1260" stroke-width="1.1" />
<line x1="154.6" y1="850.76" x2="159" y2="850.76" stroke="#5e1260" stroke-width="1.1" />
<line x1="166.84" y1="843.51" x2="166.84" y2="852.28" stroke="#5e1260" stroke-width="1.1" />
<line x1="164.64" y1="843.51" x2="169.04" y2="843.51" stroke="#5e1260" stroke-width="1.1" />
<line x1="164.64" y1="852.28" x2="169.04" y2="852.28" stroke="#5e1260" stroke-width="1.1" />
<line x1="176.88" y1="823.09" x2="176.88" y2="831.86" stroke="#5e1260" stroke-width="1.1" />
<line x1="174.68" y1="823.09" x2="179.08" y2="823.09" stroke="#5e1260" stroke-width="1.1" />
<line x1="174.68" y1="831.86" x2="179.08" y2="831.86" stroke="#5e1260" stroke-width="1.1" />
<line x1="186.92" y1="841.99" x2="186.92" y2="850.76" stroke="#5e1260" stroke-width="1.1" />
<line x1="184.72" y1="841.99" x2="189.12" y2="841.99" stroke="#5e1260" stroke-width="1.1" />
<line x1="184.72" y1="850.76" x2="189.12" y2="850.76" stroke="#5e1260" stroke-width="1.1" />
<line x1="196.96" y1="840.64" x2="196.96" y2="849.41" stroke="#5e1260" stroke-width="1.1" />
<line x1="194.76" y1="840.64" x2="199.16" y2="840.64" stroke="#5e1260" stroke-width="1.1" />
<line x1="194.76" y1="849.41" x2="199.16" y2="849.41" stroke="#5e1260" stroke-width="1.1" />
<line x1="207" y1="839.46" x2="207" y2="848.23" stroke="#5e1260" stroke-width="1.1" />
<line x1="204.8" y1="839.46" x2="209.2" y2="839.46" stroke="#5e1260" stroke-width="1.1" />
<line x1="204.8" y1="848.23" x2="209.2" y2="848.23" stroke="#5e1260" stroke-width="1.1" />
<line x1="217.04" y1="838.61" x2="217.04" y2="847.39" stroke="#5e1260" stroke-width="1.1" />
<line x1="214.84" y1="838.61" x2="219.24" y2="838.61" stroke="#5e1260" stroke-width="1.1" />
<line x1="214.84" y1="847.39" x2="219.24" y2="847.39" stroke="#5e1260" stroke-width="1.1" />
<line x1="227.08" y1="830.51" x2="227.08" y2="839.29" stroke="#5e1260" stroke-width="1.1" />
<line x1="224.88" y1="830.51" x2="229.28" y2="830.51" stroke="#5e1260" stroke-width="1.1" />
<line x1="224.88" y1="839.29" x2="229.28" y2="839.29" stroke="#5e1260" stroke-width="1.1" />
<line x1="237.12" y1="831.02" x2="237.12" y2="839.79" stroke="#5e1260" stroke-width="1.1" />
<line x1="234.92" y1="831.02" x2="239.32" y2="831.02" stroke="#5e1260" stroke-width="1.1" />
<line x1="234.92" y1="839.79" x2="239.32" y2="839.79" stroke="#5e1260" stroke-width="1.1" />
<line x1="247.16" y1="834.56" x2="247.16" y2="843.34" stroke="#5e1260" stroke-width="1.1" />
<line x1="244.96" y1="834.56" x2="249.36" y2="834.56" stroke="#5e1260" stroke-width="1.1" />
<line x1="244.96" y1="843.34" x2="249.36" y2="843.34" stroke="#5e1260" stroke-width="1.1" />
<polyline points="56.4,867.3 66.44,844.01 76.48,843.67 86.52,848.57 96.56,847.05 106.6,848.06 116.64,847.22 126.68,847.05 136.72,845.87 146.76,845.36 156.8,846.38 166.84,847.89 176.88,827.47 186.92,846.38 196.96,845.02 207,843.84 217.04,843 227.08,834.9 237.12,835.41 247.16,838.95" fill="none" stroke="#5e1260" stroke-width="1.4"/>
<circle cx="56.4" cy="867.3" r="1.7" fill="#5e1260"/>
<circle cx="66.44" cy="844.01" r="1.7" fill="#5e1260"/>
<circle cx="76.48" cy="843.67" r="1.7" fill="#5e1260"/>
<circle cx="86.52" cy="848.57" r="1.7" fill="#5e1260"/>
<circle cx="96.56" cy="847.05" r="1.7" fill="#5e1260"/>
<circle cx="106.6" cy="848.06" r="1.7" fill="#5e1260"/>
<circle cx="116.64" cy="847.22" r="1.7" fill="#5e1260"/>
<circle cx="126.68" cy="847.05" r="1.7" fill="#5e1260"/>
<circle cx="136.72" cy="845.87" r="1.7" fill="#5e1260"/>
<circle cx="146.76" cy="845.36" r="1.7" fill="#5e1260"/>
<circle cx="156.8" cy="846.38" r="1.7" fill="#5e1260"/>
<circle cx="166.84" cy="847.89" r="1.7" fill="#5e1260"/>
<circle cx="176.88" cy="827.47" r="1.7" fill="#5e1260"/>
<circle cx="186.92" cy="846.38" r="1.7" fill="#5e1260"/>
<circle cx="196.96" cy="845.02" r="1.7" fill="#5e1260"/>
<circle cx="207" cy="843.84" r="1.7" fill="#5e1260"/>
<circle cx="217.04" cy="843" r="1.7" fill="#5e1260"/>
<circle cx="227.08" cy="834.9" r="1.7" fill="#5e1260"/>
<circle cx="237.12" cy="835.41" r="1.7" fill="#5e1260"/>
<circle cx="247.16" cy="838.95" r="1.7" fill="#5e1260"/>
<line x1="66.44" y1="859.71" x2="66.44" y2="868.14" stroke="#e5654b" stroke-width="1.1" />
<line x1="64.24" y1="859.71" x2="68.64" y2="859.71" stroke="#e5654b" stroke-width="1.1" />
<line x1="64.24" y1="868.14" x2="68.64" y2="868.14" stroke="#e5654b" stroke-width="1.1" />
<line x1="76.48" y1="855.49" x2="76.48" y2="863.92" stroke="#e5654b" stroke-width="1.1" />
<line x1="74.28" y1="855.49" x2="78.68" y2="855.49" stroke="#e5654b" stroke-width="1.1" />
<line x1="74.28" y1="863.92" x2="78.68" y2="863.92" stroke="#e5654b" stroke-width="1.1" />
<line x1="86.52" y1="857.17" x2="86.52" y2="865.61" stroke="#e5654b" stroke-width="1.1" />
<line x1="84.32" y1="857.17" x2="88.72" y2="857.17" stroke="#e5654b" stroke-width="1.1" />
<line x1="84.32" y1="865.61" x2="88.72" y2="865.61" stroke="#e5654b" stroke-width="1.1" />
<line x1="96.56" y1="856.33" x2="96.56" y2="864.77" stroke="#e5654b" stroke-width="1.1" />
<line x1="94.36" y1="856.33" x2="98.76" y2="856.33" stroke="#e5654b" stroke-width="1.1" />
<line x1="94.36" y1="864.77" x2="98.76" y2="864.77" stroke="#e5654b" stroke-width="1.1" />
<line x1="106.6" y1="854.64" x2="106.6" y2="863.08" stroke="#e5654b" stroke-width="1.1" />
<line x1="104.4" y1="854.64" x2="108.8" y2="854.64" stroke="#e5654b" stroke-width="1.1" />
<line x1="104.4" y1="863.08" x2="108.8" y2="863.08" stroke="#e5654b" stroke-width="1.1" />
<line x1="116.64" y1="858.02" x2="116.64" y2="866.46" stroke="#e5654b" stroke-width="1.1" />
<line x1="114.44" y1="858.02" x2="118.84" y2="858.02" stroke="#e5654b" stroke-width="1.1" />
<line x1="114.44" y1="866.46" x2="118.84" y2="866.46" stroke="#e5654b" stroke-width="1.1" />
<line x1="126.68" y1="859.71" x2="126.68" y2="868.14" stroke="#e5654b" stroke-width="1.1" />
<line x1="124.48" y1="859.71" x2="128.88" y2="859.71" stroke="#e5654b" stroke-width="1.1" />
<line x1="124.48" y1="868.14" x2="128.88" y2="868.14" stroke="#e5654b" stroke-width="1.1" />
<line x1="136.72" y1="859.71" x2="136.72" y2="868.14" stroke="#e5654b" stroke-width="1.1" />
<line x1="134.52" y1="859.71" x2="138.92" y2="859.71" stroke="#e5654b" stroke-width="1.1" />
<line x1="134.52" y1="868.14" x2="138.92" y2="868.14" stroke="#e5654b" stroke-width="1.1" />
<line x1="146.76" y1="858.02" x2="146.76" y2="866.46" stroke="#e5654b" stroke-width="1.1" />
<line x1="144.56" y1="858.02" x2="148.96" y2="858.02" stroke="#e5654b" stroke-width="1.1" />
<line x1="144.56" y1="866.46" x2="148.96" y2="866.46" stroke="#e5654b" stroke-width="1.1" />
<line x1="156.8" y1="858.02" x2="156.8" y2="866.46" stroke="#e5654b" stroke-width="1.1" />
<line x1="154.6" y1="858.02" x2="159" y2="858.02" stroke="#e5654b" stroke-width="1.1" />
<line x1="154.6" y1="866.46" x2="159" y2="866.46" stroke="#e5654b" stroke-width="1.1" />
<line x1="166.84" y1="860.55" x2="166.84" y2="868.99" stroke="#e5654b" stroke-width="1.1" />
<line x1="164.64" y1="860.55" x2="169.04" y2="860.55" stroke="#e5654b" stroke-width="1.1" />
<line x1="164.64" y1="868.99" x2="169.04" y2="868.99" stroke="#e5654b" stroke-width="1.1" />
<line x1="176.88" y1="858.02" x2="176.88" y2="866.46" stroke="#e5654b" stroke-width="1.1" />
<line x1="174.68" y1="858.02" x2="179.08" y2="858.02" stroke="#e5654b" stroke-width="1.1" />
<line x1="174.68" y1="866.46" x2="179.08" y2="866.46" stroke="#e5654b" stroke-width="1.1" />
<line x1="186.92" y1="858.02" x2="186.92" y2="866.46" stroke="#e5654b" stroke-width="1.1" />
<line x1="184.72" y1="858.02" x2="189.12" y2="858.02" stroke="#e5654b" stroke-width="1.1" />
<line x1="184.72" y1="866.46" x2="189.12" y2="866.46" stroke="#e5654b" stroke-width="1.1" />
<line x1="196.96" y1="861.39" x2="196.96" y2="869.83" stroke="#e5654b" stroke-width="1.1" />
<line x1="194.76" y1="861.39" x2="199.16" y2="861.39" stroke="#e5654b" stroke-width="1.1" />
<line x1="194.76" y1="869.83" x2="199.16" y2="869.83" stroke="#e5654b" stroke-width="1.1" />
<line x1="207" y1="858.02" x2="207" y2="866.46" stroke="#e5654b" stroke-width="1.1" />
<line x1="204.8" y1="858.02" x2="209.2" y2="858.02" stroke="#e5654b" stroke-width="1.1" />
<line x1="204.8" y1="866.46" x2="209.2" y2="866.46" stroke="#e5654b" stroke-width="1.1" />
<line x1="217.04" y1="856.33" x2="217.04" y2="864.77" stroke="#e5654b" stroke-width="1.1" />
<line x1="214.84" y1="856.33" x2="219.24" y2="856.33" stroke="#e5654b" stroke-width="1.1" />
<line x1="214.84" y1="864.77" x2="219.24" y2="864.77" stroke="#e5654b" stroke-width="1.1" />
<line x1="227.08" y1="852.11" x2="227.08" y2="860.55" stroke="#e5654b" stroke-width="1.1" />
<line x1="224.88" y1="852.11" x2="229.28" y2="852.11" stroke="#e5654b" stroke-width="1.1" />
<line x1="224.88" y1="860.55" x2="229.28" y2="860.55" stroke="#e5654b" stroke-width="1.1" />
<line x1="237.12" y1="854.64" x2="237.12" y2="863.08" stroke="#e5654b" stroke-width="1.1" />
<line x1="234.92" y1="854.64" x2="239.32" y2="854.64" stroke="#e5654b" stroke-width="1.1" />
<line x1="234.92" y1="863.08" x2="239.32" y2="863.08" stroke="#e5654b" stroke-width="1.1" />
<line x1="247.16" y1="857.17" x2="247.16" y2="865.61" stroke="#e5654b" stroke-width="1.1" />
<line x1="244.96" y1="857.17" x2="249.36" y2="857.17" stroke="#e5654b" stroke-width="1.1" />
<line x1="244.96" y1="865.61" x2="249.36" y2="865.61" stroke="#e5654b" stroke-width="1.1" />
<polyline points="56.4,867.3 66.44,863.92 76.48,859.71 86.52,861.39 96.56,860.55 106.6,858.86 116.64,862.24 126.68,863.92 136.72,863.92 146.76,862.24 156.8,862.24 166.84,864.77 176.88,862.24 186.92,862.24 196.96,865.61 207,862.24 217.04,860.55 227.08,856.33 237.12,858.86 247.16,861.39" fill="none" stroke="#e5654b" stroke-width="1.6"/>
<circle cx="56.4" cy="867.3" r="2.9" fill="#e5654b"/>
<circle cx="66.44" cy="863.92" r="2.9" fill="#e5654b"/>
<circle cx="76.48" cy="859.71" r="2.9" fill="#e5654b"/>
<circle cx="86.52" cy="861.39" r="2.9" fill="#e5654b"/>
<circle cx="96.56" cy="860.55" r="2.9" fill="#e5654b"/>
<circle cx="106.6" cy="858.86" r="2.9" fill="#e5654b"/>
<circle cx="116.64" cy="862.24" r="2.9" fill="#e5654b"/>
<circle cx="126.68" cy="863.92" r="2.9" fill="#e5654b"/>
<circle cx="136.72" cy="863.92" r="2.9" fill="#e5654b"/>
<circle cx="146.76" cy="862.24" r="2.9" fill="#e5654b"/>
<circle cx="156.8" cy="862.24" r="2.9" fill="#e5654b"/>
<circle cx="166.84" cy="864.77" r="2.9" fill="#e5654b"/>
<circle cx="176.88" cy="862.24" r="2.9" fill="#e5654b"/>
<circle cx="186.92" cy="862.24" r="2.9" fill="#e5654b"/>
<circle cx="196.96" cy="865.61" r="2.9" fill="#e5654b"/>
<circle cx="207" cy="862.24" r="2.9" fill="#e5654b"/>
<circle cx="217.04" cy="860.55" r="2.9" fill="#e5654b"/>
<circle cx="227.08" cy="856.33" r="2.9" fill="#e5654b"/>
<circle cx="237.12" cy="858.86" r="2.9" fill="#e5654b"/>
<circle cx="247.16" cy="861.39" r="2.9" fill="#e5654b"/>
<line x1="66.44" y1="856.33" x2="66.44" y2="864.77" stroke="#2d4c57" stroke-width="1.1" />
<line x1="64.24" y1="856.33" x2="68.64" y2="856.33" stroke="#2d4c57" stroke-width="1.1" />
<line x1="64.24" y1="864.77" x2="68.64" y2="864.77" stroke="#2d4c57" stroke-width="1.1" />
<line x1="76.48" y1="855.49" x2="76.48" y2="863.92" stroke="#2d4c57" stroke-width="1.1" />
<line x1="74.28" y1="855.49" x2="78.68" y2="855.49" stroke="#2d4c57" stroke-width="1.1" />
<line x1="74.28" y1="863.92" x2="78.68" y2="863.92" stroke="#2d4c57" stroke-width="1.1" />
<line x1="86.52" y1="854.64" x2="86.52" y2="863.08" stroke="#2d4c57" stroke-width="1.1" />
<line x1="84.32" y1="854.64" x2="88.72" y2="854.64" stroke="#2d4c57" stroke-width="1.1" />
<line x1="84.32" y1="863.08" x2="88.72" y2="863.08" stroke="#2d4c57" stroke-width="1.1" />
<line x1="96.56" y1="856.33" x2="96.56" y2="864.77" stroke="#2d4c57" stroke-width="1.1" />
<line x1="94.36" y1="856.33" x2="98.76" y2="856.33" stroke="#2d4c57" stroke-width="1.1" />
<line x1="94.36" y1="864.77" x2="98.76" y2="864.77" stroke="#2d4c57" stroke-width="1.1" />
<line x1="106.6" y1="852.96" x2="106.6" y2="861.39" stroke="#2d4c57" stroke-width="1.1" />
<line x1="104.4" y1="852.96" x2="108.8" y2="852.96" stroke="#2d4c57" stroke-width="1.1" />
<line x1="104.4" y1="861.39" x2="108.8" y2="861.39" stroke="#2d4c57" stroke-width="1.1" />
<line x1="116.64" y1="858.02" x2="116.64" y2="866.46" stroke="#2d4c57" stroke-width="1.1" />
<line x1="114.44" y1="858.02" x2="118.84" y2="858.02" stroke="#2d4c57" stroke-width="1.1" />
<line x1="114.44" y1="866.46" x2="118.84" y2="866.46" stroke="#2d4c57" stroke-width="1.1" />
<line x1="126.68" y1="858.02" x2="126.68" y2="866.46" stroke="#2d4c57" stroke-width="1.1" />
<line x1="124.48" y1="858.02" x2="128.88" y2="858.02" stroke="#2d4c57" stroke-width="1.1" />
<line x1="124.48" y1="866.46" x2="128.88" y2="866.46" stroke="#2d4c57" stroke-width="1.1" />
<line x1="136.72" y1="858.02" x2="136.72" y2="866.46" stroke="#2d4c57" stroke-width="1.1" />
<line x1="134.52" y1="858.02" x2="138.92" y2="858.02" stroke="#2d4c57" stroke-width="1.1" />
<line x1="134.52" y1="866.46" x2="138.92" y2="866.46" stroke="#2d4c57" stroke-width="1.1" />
<line x1="146.76" y1="856.33" x2="146.76" y2="864.77" stroke="#2d4c57" stroke-width="1.1" />
<line x1="144.56" y1="856.33" x2="148.96" y2="856.33" stroke="#2d4c57" stroke-width="1.1" />
<line x1="144.56" y1="864.77" x2="148.96" y2="864.77" stroke="#2d4c57" stroke-width="1.1" />
<line x1="156.8" y1="856.33" x2="156.8" y2="864.77" stroke="#2d4c57" stroke-width="1.1" />
<line x1="154.6" y1="856.33" x2="159" y2="856.33" stroke="#2d4c57" stroke-width="1.1" />
<line x1="154.6" y1="864.77" x2="159" y2="864.77" stroke="#2d4c57" stroke-width="1.1" />
<line x1="166.84" y1="858.02" x2="166.84" y2="866.46" stroke="#2d4c57" stroke-width="1.1" />
<line x1="164.64" y1="858.02" x2="169.04" y2="858.02" stroke="#2d4c57" stroke-width="1.1" />
<line x1="164.64" y1="866.46" x2="169.04" y2="866.46" stroke="#2d4c57" stroke-width="1.1" />
<line x1="176.88" y1="854.64" x2="176.88" y2="863.08" stroke="#2d4c57" stroke-width="1.1" />
<line x1="174.68" y1="854.64" x2="179.08" y2="854.64" stroke="#2d4c57" stroke-width="1.1" />
<line x1="174.68" y1="863.08" x2="179.08" y2="863.08" stroke="#2d4c57" stroke-width="1.1" />
<line x1="186.92" y1="852.96" x2="186.92" y2="861.39" stroke="#2d4c57" stroke-width="1.1" />
<line x1="184.72" y1="852.96" x2="189.12" y2="852.96" stroke="#2d4c57" stroke-width="1.1" />
<line x1="184.72" y1="861.39" x2="189.12" y2="861.39" stroke="#2d4c57" stroke-width="1.1" />
<line x1="196.96" y1="856.33" x2="196.96" y2="864.77" stroke="#2d4c57" stroke-width="1.1" />
<line x1="194.76" y1="856.33" x2="199.16" y2="856.33" stroke="#2d4c57" stroke-width="1.1" />
<line x1="194.76" y1="864.77" x2="199.16" y2="864.77" stroke="#2d4c57" stroke-width="1.1" />
<line x1="207" y1="854.64" x2="207" y2="863.08" stroke="#2d4c57" stroke-width="1.1" />
<line x1="204.8" y1="854.64" x2="209.2" y2="854.64" stroke="#2d4c57" stroke-width="1.1" />
<line x1="204.8" y1="863.08" x2="209.2" y2="863.08" stroke="#2d4c57" stroke-width="1.1" />
<line x1="217.04" y1="852.96" x2="217.04" y2="861.39" stroke="#2d4c57" stroke-width="1.1" />
<line x1="214.84" y1="852.96" x2="219.24" y2="852.96" stroke="#2d4c57" stroke-width="1.1" />
<line x1="214.84" y1="861.39" x2="219.24" y2="861.39" stroke="#2d4c57" stroke-width="1.1" />
<line x1="227.08" y1="849.58" x2="227.08" y2="858.02" stroke="#2d4c57" stroke-width="1.1" />
<line x1="224.88" y1="849.58" x2="229.28" y2="849.58" stroke="#2d4c57" stroke-width="1.1" />
<line x1="224.88" y1="858.02" x2="229.28" y2="858.02" stroke="#2d4c57" stroke-width="1.1" />
<line x1="237.12" y1="851.27" x2="237.12" y2="859.71" stroke="#2d4c57" stroke-width="1.1" />
<line x1="234.92" y1="851.27" x2="239.32" y2="851.27" stroke="#2d4c57" stroke-width="1.1" />
<line x1="234.92" y1="859.71" x2="239.32" y2="859.71" stroke="#2d4c57" stroke-width="1.1" />
<line x1="247.16" y1="852.96" x2="247.16" y2="861.39" stroke="#2d4c57" stroke-width="1.1" />
<line x1="244.96" y1="852.96" x2="249.36" y2="852.96" stroke="#2d4c57" stroke-width="1.1" />
<line x1="244.96" y1="861.39" x2="249.36" y2="861.39" stroke="#2d4c57" stroke-width="1.1" />
<polyline points="56.4,867.3 66.44,860.55 76.48,859.71 86.52,858.86 96.56,860.55 106.6,857.17 116.64,862.24 126.68,862.24 136.72,862.24 146.76,860.55 156.8,860.55 166.84,862.24 176.88,858.86 186.92,857.17 196.96,860.55 207,858.86 217.04,857.17 227.08,853.8 237.12,855.49 247.16,857.17" fill="none" stroke="#2d4c57" stroke-width="1.6"/>
<circle cx="56.4" cy="867.3" r="2.9" fill="#2d4c57"/>
<circle cx="66.44" cy="860.55" r="2.9" fill="#2d4c57"/>
<circle cx="76.48" cy="859.71" r="2.9" fill="#2d4c57"/>
<circle cx="86.52" cy="858.86" r="2.9" fill="#2d4c57"/>
<circle cx="96.56" cy="860.55" r="2.9" fill="#2d4c57"/>
<circle cx="106.6" cy="857.17" r="2.9" fill="#2d4c57"/>
<circle cx="116.64" cy="862.24" r="2.9" fill="#2d4c57"/>
<circle cx="126.68" cy="862.24" r="2.9" fill="#2d4c57"/>
<circle cx="136.72" cy="862.24" r="2.9" fill="#2d4c57"/>
<circle cx="146.76" cy="860.55" r="2.9" fill="#2d4c57"/>
<circle cx="156.8" cy="860.55" r="2.9" fill="#2d4c57"/>
<circle cx="166.84" cy="862.24" r="2.9" fill="#2d4c57"/>
<circle cx="176.88" cy="858.86" r="2.9" fill="#2d4c57"/>
<circle cx="186.92" cy="857.17" r="2.9" fill="#2d4c57"/>
<circle cx="196.96" cy="860.55" r="2.9" fill="#2d4c57"/>
<circle cx="207" cy="858.86" r="2.9" fill="#2d4c57"/>
<circle cx="217.04" cy="857.17" r="2.9" fill="#2d4c57"/>
<circle cx="227.08" cy="853.8" r="2.9" fill="#2d4c57"/>
<circle cx="237.12" cy="855.49" r="2.9" fill="#2d4c57"/>
<circle cx="247.16" cy="857.17" r="2.9" fill="#2d4c57"/>
<line x1="66.44" y1="858.02" x2="66.44" y2="866.46" stroke="#5e1260" stroke-width="1.1" />
<line x1="64.24" y1="858.02" x2="68.64" y2="858.02" stroke="#5e1260" stroke-width="1.1" />
<line x1="64.24" y1="866.46" x2="68.64" y2="866.46" stroke="#5e1260" stroke-width="1.1" />
<line x1="76.48" y1="858.02" x2="76.48" y2="866.46" stroke="#5e1260" stroke-width="1.1" />
<line x1="74.28" y1="858.02" x2="78.68" y2="858.02" stroke="#5e1260" stroke-width="1.1" />
<line x1="74.28" y1="866.46" x2="78.68" y2="866.46" stroke="#5e1260" stroke-width="1.1" />
<line x1="86.52" y1="856.33" x2="86.52" y2="864.77" stroke="#5e1260" stroke-width="1.1" />
<line x1="84.32" y1="856.33" x2="88.72" y2="856.33" stroke="#5e1260" stroke-width="1.1" />
<line x1="84.32" y1="864.77" x2="88.72" y2="864.77" stroke="#5e1260" stroke-width="1.1" />
<line x1="96.56" y1="856.33" x2="96.56" y2="864.77" stroke="#5e1260" stroke-width="1.1" />
<line x1="94.36" y1="856.33" x2="98.76" y2="856.33" stroke="#5e1260" stroke-width="1.1" />
<line x1="94.36" y1="864.77" x2="98.76" y2="864.77" stroke="#5e1260" stroke-width="1.1" />
<line x1="106.6" y1="854.64" x2="106.6" y2="863.08" stroke="#5e1260" stroke-width="1.1" />
<line x1="104.4" y1="854.64" x2="108.8" y2="854.64" stroke="#5e1260" stroke-width="1.1" />
<line x1="104.4" y1="863.08" x2="108.8" y2="863.08" stroke="#5e1260" stroke-width="1.1" />
<line x1="116.64" y1="858.02" x2="116.64" y2="866.46" stroke="#5e1260" stroke-width="1.1" />
<line x1="114.44" y1="858.02" x2="118.84" y2="858.02" stroke="#5e1260" stroke-width="1.1" />
<line x1="114.44" y1="866.46" x2="118.84" y2="866.46" stroke="#5e1260" stroke-width="1.1" />
<line x1="126.68" y1="858.02" x2="126.68" y2="866.46" stroke="#5e1260" stroke-width="1.1" />
<line x1="124.48" y1="858.02" x2="128.88" y2="858.02" stroke="#5e1260" stroke-width="1.1" />
<line x1="124.48" y1="866.46" x2="128.88" y2="866.46" stroke="#5e1260" stroke-width="1.1" />
<line x1="136.72" y1="858.02" x2="136.72" y2="866.46" stroke="#5e1260" stroke-width="1.1" />
<line x1="134.52" y1="858.02" x2="138.92" y2="858.02" stroke="#5e1260" stroke-width="1.1" />
<line x1="134.52" y1="866.46" x2="138.92" y2="866.46" stroke="#5e1260" stroke-width="1.1" />
<line x1="146.76" y1="856.33" x2="146.76" y2="864.77" stroke="#5e1260" stroke-width="1.1" />
<line x1="144.56" y1="856.33" x2="148.96" y2="856.33" stroke="#5e1260" stroke-width="1.1" />
<line x1="144.56" y1="864.77" x2="148.96" y2="864.77" stroke="#5e1260" stroke-width="1.1" />
<line x1="156.8" y1="856.33" x2="156.8" y2="864.77" stroke="#5e1260" stroke-width="1.1" />
<line x1="154.6" y1="856.33" x2="159" y2="856.33" stroke="#5e1260" stroke-width="1.1" />
<line x1="154.6" y1="864.77" x2="159" y2="864.77" stroke="#5e1260" stroke-width="1.1" />
<line x1="166.84" y1="858.02" x2="166.84" y2="866.46" stroke="#5e1260" stroke-width="1.1" />
<line x1="164.64" y1="858.02" x2="169.04" y2="858.02" stroke="#5e1260" stroke-width="1.1" />
<line x1="164.64" y1="866.46" x2="169.04" y2="866.46" stroke="#5e1260" stroke-width="1.1" />
<line x1="176.88" y1="856.33" x2="176.88" y2="864.77" stroke="#5e1260" stroke-width="1.1" />
<line x1="174.68" y1="856.33" x2="179.08" y2="856.33" stroke="#5e1260" stroke-width="1.1" />
<line x1="174.68" y1="864.77" x2="179.08" y2="864.77" stroke="#5e1260" stroke-width="1.1" />
<line x1="186.92" y1="854.64" x2="186.92" y2="863.08" stroke="#5e1260" stroke-width="1.1" />
<line x1="184.72" y1="854.64" x2="189.12" y2="854.64" stroke="#5e1260" stroke-width="1.1" />
<line x1="184.72" y1="863.08" x2="189.12" y2="863.08" stroke="#5e1260" stroke-width="1.1" />
<line x1="196.96" y1="858.02" x2="196.96" y2="866.46" stroke="#5e1260" stroke-width="1.1" />
<line x1="194.76" y1="858.02" x2="199.16" y2="858.02" stroke="#5e1260" stroke-width="1.1" />
<line x1="194.76" y1="866.46" x2="199.16" y2="866.46" stroke="#5e1260" stroke-width="1.1" />
<line x1="207" y1="856.33" x2="207" y2="864.77" stroke="#5e1260" stroke-width="1.1" />
<line x1="204.8" y1="856.33" x2="209.2" y2="856.33" stroke="#5e1260" stroke-width="1.1" />
<line x1="204.8" y1="864.77" x2="209.2" y2="864.77" stroke="#5e1260" stroke-width="1.1" />
<line x1="217.04" y1="854.64" x2="217.04" y2="863.08" stroke="#5e1260" stroke-width="1.1" />
<line x1="214.84" y1="854.64" x2="219.24" y2="854.64" stroke="#5e1260" stroke-width="1.1" />
<line x1="214.84" y1="863.08" x2="219.24" y2="863.08" stroke="#5e1260" stroke-width="1.1" />
<line x1="227.08" y1="851.27" x2="227.08" y2="859.71" stroke="#5e1260" stroke-width="1.1" />
<line x1="224.88" y1="851.27" x2="229.28" y2="851.27" stroke="#5e1260" stroke-width="1.1" />
<line x1="224.88" y1="859.71" x2="229.28" y2="859.71" stroke="#5e1260" stroke-width="1.1" />
<line x1="237.12" y1="852.96" x2="237.12" y2="861.39" stroke="#5e1260" stroke-width="1.1" />
<line x1="234.92" y1="852.96" x2="239.32" y2="852.96" stroke="#5e1260" stroke-width="1.1" />
<line x1="234.92" y1="861.39" x2="239.32" y2="861.39" stroke="#5e1260" stroke-width="1.1" />
<line x1="247.16" y1="855.49" x2="247.16" y2="863.92" stroke="#5e1260" stroke-width="1.1" />
<line x1="244.96" y1="855.49" x2="249.36" y2="855.49" stroke="#5e1260" stroke-width="1.1" />
<line x1="244.96" y1="863.92" x2="249.36" y2="863.92" stroke="#5e1260" stroke-width="1.1" />
<polyline points="56.4,867.3 66.44,862.24 76.48,862.24 86.52,860.55 96.56,860.55 106.6,858.86 116.64,862.24 126.68,862.24 136.72,862.24 146.76,860.55 156.8,860.55 166.84,862.24 176.88,860.55 186.92,858.86 196.96,862.24 207,860.55 217.04,858.86 227.08,855.49 237.12,857.17 247.16,859.71" fill="none" stroke="#5e1260" stroke-width="1.6"/>
<circle cx="56.4" cy="867.3" r="2.9" fill="#5e1260"/>
<circle cx="66.44" cy="862.24" r="2.9" fill="#5e1260"/>
<circle cx="76.48" cy="862.24" r="2.9" fill="#5e1260"/>
<circle cx="86.52" cy="860.55" r="2.9" fill="#5e1260"/>
<circle cx="96.56" cy="860.55" r="2.9" fill="#5e1260"/>
<circle cx="106.6" cy="858.86" r="2.9" fill="#5e1260"/>
<circle cx="116.64" cy="862.24" r="2.9" fill="#5e1260"/>
<circle cx="126.68" cy="862.24" r="2.9" fill="#5e1260"/>
<circle cx="136.72" cy="862.24" r="2.9" fill="#5e1260"/>
<circle cx="146.76" cy="860.55" r="2.9" fill="#5e1260"/>
<circle cx="156.8" cy="860.55" r="2.9" fill="#5e1260"/>
<circle cx="166.84" cy="862.24" r="2.9" fill="#5e1260"/>
<circle cx="176.88" cy="860.55" r="2.9" fill="#5e1260"/>
<circle cx="186.92" cy="858.86" r="2.9" fill="#5e1260"/>
<circle cx="196.96" cy="862.24" r="2.9" fill="#5e1260"/>
<circle cx="207" cy="860.55" r="2.9" fill="#5e1260"/>
<circle cx="217.04" cy="858.86" r="2.9" fill="#5e1260"/>
<circle cx="227.08" cy="855.49" r="2.9" fill="#5e1260"/>
<circle cx="237.12" cy="857.17" r="2.9" fill="#5e1260"/>
<circle cx="247.16" cy="859.71" r="2.9" fill="#5e1260"/>
<line x1="66.44" y1="858.02" x2="66.44" y2="866.46" stroke="#9b6a24" stroke-width="1.1" />
<line x1="64.24" y1="858.02" x2="68.64" y2="858.02" stroke="#9b6a24" stroke-width="1.1" />
<line x1="64.24" y1="866.46" x2="68.64" y2="866.46" stroke="#9b6a24" stroke-width="1.1" />
<line x1="76.48" y1="857.51" x2="76.48" y2="865.95" stroke="#9b6a24" stroke-width="1.1" />
<line x1="74.28" y1="857.51" x2="78.68" y2="857.51" stroke="#9b6a24" stroke-width="1.1" />
<line x1="74.28" y1="865.95" x2="78.68" y2="865.95" stroke="#9b6a24" stroke-width="1.1" />
<line x1="86.52" y1="853.46" x2="86.52" y2="861.9" stroke="#9b6a24" stroke-width="1.1" />
<line x1="84.32" y1="853.46" x2="88.72" y2="853.46" stroke="#9b6a24" stroke-width="1.1" />
<line x1="84.32" y1="861.9" x2="88.72" y2="861.9" stroke="#9b6a24" stroke-width="1.1" />
<line x1="96.56" y1="851.94" x2="96.56" y2="860.38" stroke="#9b6a24" stroke-width="1.1" />
<line x1="94.36" y1="851.94" x2="98.76" y2="851.94" stroke="#9b6a24" stroke-width="1.1" />
<line x1="94.36" y1="860.38" x2="98.76" y2="860.38" stroke="#9b6a24" stroke-width="1.1" />
<line x1="106.6" y1="851.94" x2="106.6" y2="860.38" stroke="#9b6a24" stroke-width="1.1" />
<line x1="104.4" y1="851.94" x2="108.8" y2="851.94" stroke="#9b6a24" stroke-width="1.1" />
<line x1="104.4" y1="860.38" x2="108.8" y2="860.38" stroke="#9b6a24" stroke-width="1.1" />
<line x1="116.64" y1="859.2" x2="116.64" y2="867.64" stroke="#9b6a24" stroke-width="1.1" />
<line x1="114.44" y1="859.2" x2="118.84" y2="859.2" stroke="#9b6a24" stroke-width="1.1" />
<line x1="114.44" y1="867.64" x2="118.84" y2="867.64" stroke="#9b6a24" stroke-width="1.1" />
<line x1="126.68" y1="859.2" x2="126.68" y2="867.64" stroke="#9b6a24" stroke-width="1.1" />
<line x1="124.48" y1="859.2" x2="128.88" y2="859.2" stroke="#9b6a24" stroke-width="1.1" />
<line x1="124.48" y1="867.64" x2="128.88" y2="867.64" stroke="#9b6a24" stroke-width="1.1" />
<line x1="136.72" y1="859.2" x2="136.72" y2="867.64" stroke="#9b6a24" stroke-width="1.1" />
<line x1="134.52" y1="859.2" x2="138.92" y2="859.2" stroke="#9b6a24" stroke-width="1.1" />
<line x1="134.52" y1="867.64" x2="138.92" y2="867.64" stroke="#9b6a24" stroke-width="1.1" />
<line x1="146.76" y1="854.31" x2="146.76" y2="862.74" stroke="#9b6a24" stroke-width="1.1" />
<line x1="144.56" y1="854.31" x2="148.96" y2="854.31" stroke="#9b6a24" stroke-width="1.1" />
<line x1="144.56" y1="862.74" x2="148.96" y2="862.74" stroke="#9b6a24" stroke-width="1.1" />
<line x1="156.8" y1="854.31" x2="156.8" y2="862.74" stroke="#9b6a24" stroke-width="1.1" />
<line x1="154.6" y1="854.31" x2="159" y2="854.31" stroke="#9b6a24" stroke-width="1.1" />
<line x1="154.6" y1="862.74" x2="159" y2="862.74" stroke="#9b6a24" stroke-width="1.1" />
<line x1="166.84" y1="856.33" x2="166.84" y2="864.77" stroke="#9b6a24" stroke-width="1.1" />
<line x1="164.64" y1="856.33" x2="169.04" y2="856.33" stroke="#9b6a24" stroke-width="1.1" />
<line x1="164.64" y1="864.77" x2="169.04" y2="864.77" stroke="#9b6a24" stroke-width="1.1" />
<line x1="176.88" y1="853.8" x2="176.88" y2="862.24" stroke="#9b6a24" stroke-width="1.1" />
<line x1="174.68" y1="853.8" x2="179.08" y2="853.8" stroke="#9b6a24" stroke-width="1.1" />
<line x1="174.68" y1="862.24" x2="179.08" y2="862.24" stroke="#9b6a24" stroke-width="1.1" />
<line x1="186.92" y1="855.49" x2="186.92" y2="863.92" stroke="#9b6a24" stroke-width="1.1" />
<line x1="184.72" y1="855.49" x2="189.12" y2="855.49" stroke="#9b6a24" stroke-width="1.1" />
<line x1="184.72" y1="863.92" x2="189.12" y2="863.92" stroke="#9b6a24" stroke-width="1.1" />
<line x1="196.96" y1="860.55" x2="196.96" y2="868.99" stroke="#9b6a24" stroke-width="1.1" />
<line x1="194.76" y1="860.55" x2="199.16" y2="860.55" stroke="#9b6a24" stroke-width="1.1" />
<line x1="194.76" y1="868.99" x2="199.16" y2="868.99" stroke="#9b6a24" stroke-width="1.1" />
<line x1="207" y1="858.86" x2="207" y2="867.3" stroke="#9b6a24" stroke-width="1.1" />
<line x1="204.8" y1="858.86" x2="209.2" y2="858.86" stroke="#9b6a24" stroke-width="1.1" />
<line x1="204.8" y1="867.3" x2="209.2" y2="867.3" stroke="#9b6a24" stroke-width="1.1" />
<line x1="217.04" y1="857.17" x2="217.04" y2="865.61" stroke="#9b6a24" stroke-width="1.1" />
<line x1="214.84" y1="857.17" x2="219.24" y2="857.17" stroke="#9b6a24" stroke-width="1.1" />
<line x1="214.84" y1="865.61" x2="219.24" y2="865.61" stroke="#9b6a24" stroke-width="1.1" />
<line x1="227.08" y1="847.89" x2="227.08" y2="856.33" stroke="#9b6a24" stroke-width="1.1" />
<line x1="224.88" y1="847.89" x2="229.28" y2="847.89" stroke="#9b6a24" stroke-width="1.1" />
<line x1="224.88" y1="856.33" x2="229.28" y2="856.33" stroke="#9b6a24" stroke-width="1.1" />
<line x1="237.12" y1="850.42" x2="237.12" y2="858.86" stroke="#9b6a24" stroke-width="1.1" />
<line x1="234.92" y1="850.42" x2="239.32" y2="850.42" stroke="#9b6a24" stroke-width="1.1" />
<line x1="234.92" y1="858.86" x2="239.32" y2="858.86" stroke="#9b6a24" stroke-width="1.1" />
<line x1="247.16" y1="852.96" x2="247.16" y2="861.39" stroke="#9b6a24" stroke-width="1.1" />
<line x1="244.96" y1="852.96" x2="249.36" y2="852.96" stroke="#9b6a24" stroke-width="1.1" />
<line x1="244.96" y1="861.39" x2="249.36" y2="861.39" stroke="#9b6a24" stroke-width="1.1" />
<polyline points="56.4,867.3 66.44,862.24 76.48,861.73 86.52,857.68 96.56,856.16 106.6,856.16 116.64,863.42 126.68,863.42 136.72,863.42 146.76,858.52 156.8,858.52 166.84,860.55 176.88,858.02 186.92,859.71 196.96,864.77 207,863.08 217.04,861.39 227.08,852.11 237.12,854.64 247.16,857.17" fill="none" stroke="#9b6a24" stroke-width="2.2"/>
<circle cx="56.4" cy="867.3" r="3.6" fill="#9b6a24"/>
<circle cx="66.44" cy="862.24" r="3.6" fill="#9b6a24"/>
<circle cx="76.48" cy="861.73" r="3.6" fill="#9b6a24"/>
<circle cx="86.52" cy="857.68" r="3.6" fill="#9b6a24"/>
<circle cx="96.56" cy="856.16" r="3.6" fill="#9b6a24"/>
<circle cx="106.6" cy="856.16" r="3.6" fill="#9b6a24"/>
<circle cx="116.64" cy="863.42" r="3.6" fill="#9b6a24"/>
<circle cx="126.68" cy="863.42" r="3.6" fill="#9b6a24"/>
<circle cx="136.72" cy="863.42" r="3.6" fill="#9b6a24"/>
<circle cx="146.76" cy="858.52" r="3.6" fill="#9b6a24"/>
<circle cx="156.8" cy="858.52" r="3.6" fill="#9b6a24"/>
<circle cx="166.84" cy="860.55" r="3.6" fill="#9b6a24"/>
<circle cx="176.88" cy="858.02" r="3.6" fill="#9b6a24"/>
<circle cx="186.92" cy="859.71" r="3.6" fill="#9b6a24"/>
<circle cx="196.96" cy="864.77" r="3.6" fill="#9b6a24"/>
<circle cx="207" cy="863.08" r="3.6" fill="#9b6a24"/>
<circle cx="217.04" cy="861.39" r="3.6" fill="#9b6a24"/>
<circle cx="227.08" cy="852.11" r="3.6" fill="#9b6a24"/>
<circle cx="237.12" cy="854.64" r="3.6" fill="#9b6a24"/>
<circle cx="247.16" cy="857.17" r="3.6" fill="#9b6a24"/>
<line x1="66.44" y1="854.98" x2="66.44" y2="860.04" stroke="#111111" stroke-width="1.2" />
<line x1="64.24" y1="854.98" x2="68.64" y2="854.98" stroke="#111111" stroke-width="1.2" />
<line x1="64.24" y1="860.04" x2="68.64" y2="860.04" stroke="#111111" stroke-width="1.2" />
<line x1="76.48" y1="848.91" x2="76.48" y2="864.09" stroke="#111111" stroke-width="1.2" />
<line x1="74.28" y1="848.91" x2="78.68" y2="848.91" stroke="#111111" stroke-width="1.2" />
<line x1="74.28" y1="864.09" x2="78.68" y2="864.09" stroke="#111111" stroke-width="1.2" />
<line x1="86.52" y1="861.56" x2="86.52" y2="864.26" stroke="#111111" stroke-width="1.2" />
<line x1="84.32" y1="861.56" x2="88.72" y2="861.56" stroke="#111111" stroke-width="1.2" />
<line x1="84.32" y1="864.26" x2="88.72" y2="864.26" stroke="#111111" stroke-width="1.2" />
<line x1="96.56" y1="866.96" x2="96.56" y2="872.02" stroke="#111111" stroke-width="1.2" />
<line x1="94.36" y1="866.96" x2="98.76" y2="866.96" stroke="#111111" stroke-width="1.2" />
<line x1="94.36" y1="872.02" x2="98.76" y2="872.02" stroke="#111111" stroke-width="1.2" />
<line x1="106.6" y1="878.1" x2="106.6" y2="884.85" stroke="#111111" stroke-width="1.2" />
<line x1="104.4" y1="878.1" x2="108.8" y2="878.1" stroke="#111111" stroke-width="1.2" />
<line x1="104.4" y1="884.85" x2="108.8" y2="884.85" stroke="#111111" stroke-width="1.2" />
<line x1="116.64" y1="891.94" x2="116.64" y2="898.69" stroke="#111111" stroke-width="1.2" />
<line x1="114.44" y1="891.94" x2="118.84" y2="891.94" stroke="#111111" stroke-width="1.2" />
<line x1="114.44" y1="898.69" x2="118.84" y2="898.69" stroke="#111111" stroke-width="1.2" />
<line x1="126.68" y1="899.7" x2="126.68" y2="908.14" stroke="#111111" stroke-width="1.2" />
<line x1="124.48" y1="899.7" x2="128.88" y2="899.7" stroke="#111111" stroke-width="1.2" />
<line x1="124.48" y1="908.14" x2="128.88" y2="908.14" stroke="#111111" stroke-width="1.2" />
<polyline points="56.4,867.3 66.44,857.51 76.48,856.5 86.52,862.91 96.56,869.49 106.6,881.47 116.64,895.31 126.68,903.92 136.72,896.83 146.76,887.21 156.8,887.21 166.84,884.68 176.88,884.68 186.92,885.52 196.96,888.73 207,886.2 217.04,890.42 227.08,888.73 237.12,892.95 247.16,887.89" fill="none" stroke="#111111" stroke-width="1.6"/>
<circle cx="56.4" cy="867.3" r="2.4" fill="#111111"/>
<rect x="63.84" y="854.91" width="5.2" height="5.2" fill="#111111"/>
<rect x="73.88" y="853.9" width="5.2" height="5.2" fill="#111111"/>
<circle cx="86.52" cy="862.91" r="2.4" fill="#111111"/>
<circle cx="96.56" cy="869.49" r="2.4" fill="#111111"/>
<circle cx="106.6" cy="881.47" r="2.4" fill="#111111"/>
<circle cx="116.64" cy="895.31" r="2.4" fill="#111111"/>
<circle cx="126.68" cy="903.92" r="2.4" fill="#111111"/>
<circle cx="136.72" cy="896.83" r="2.4" fill="#111111"/>
<circle cx="146.76" cy="887.21" r="2.4" fill="#111111"/>
<circle cx="156.8" cy="887.21" r="2.4" fill="#111111"/>
<circle cx="166.84" cy="884.68" r="2.4" fill="#111111"/>
<circle cx="176.88" cy="884.68" r="2.4" fill="#111111"/>
<circle cx="186.92" cy="885.52" r="2.4" fill="#111111"/>
<circle cx="196.96" cy="888.73" r="2.4" fill="#111111"/>
<circle cx="207" cy="886.2" r="2.4" fill="#111111"/>
<circle cx="217.04" cy="890.42" r="2.4" fill="#111111"/>
<circle cx="227.08" cy="888.73" r="2.4" fill="#111111"/>
<circle cx="237.12" cy="892.95" r="2.4" fill="#111111"/>
<circle cx="247.16" cy="887.89" r="2.4" fill="#111111"/>
<line x1="276.7" y1="809.5" x2="290.6" y2="809.5" stroke="#111111" stroke-width="1.6" />
<circle cx="283.7" cy="809.5" r="2.4" fill="#111111"/>
<text x="299.3" y="813.5" font-size="11.2" font-weight="bold" text-anchor="start" fill="#111" >PBS</text>
<line x1="276.7" y1="828.2" x2="290.6" y2="828.2" stroke="#9b6a24" stroke-width="1.6" />
<rect x="281.1" y="825.6" width="5.2" height="5.2" fill="#9b6a24"/>
<text x="299.3" y="832.2" font-size="11.2" font-weight="bold" text-anchor="start" fill="#111" >dTK-L</text>
<line x1="276.7" y1="846.9" x2="290.6" y2="846.9" stroke="#e5654b" stroke-width="1.6" />
<path d="M283.7,844.3 L286.3,848.9 L281.1,848.9 Z" fill="#e5654b"/>
<text x="299.3" y="850.9" font-size="11.2" font-weight="bold" text-anchor="start" fill="#111" >dF4-L</text>
<line x1="276.7" y1="865.6" x2="290.6" y2="865.6" stroke="#2d4c57" stroke-width="1.6" />
<path d="M283.7,868.2 L286.3,863.6 L281.1,863.6 Z" fill="#2d4c57"/>
<text x="299.3" y="869.6" font-size="11.2" font-weight="bold" text-anchor="start" fill="#111" >dTF-L</text>
<line x1="276.7" y1="884.3" x2="290.6" y2="884.3" stroke="#5e1260" stroke-width="1.6" />
<circle cx="283.7" cy="884.3" r="1.7" fill="#5e1260"/>
<text x="299.3" y="888.3" font-size="11.2" font-weight="bold" text-anchor="start" fill="#111" >dBTF-L</text>
<line x1="276.7" y1="903" x2="290.6" y2="903" stroke="#9b6a24" stroke-width="1.6" />
<circle cx="283.7" cy="903" r="3.6" fill="#9b6a24"/>
<text x="299.3" y="907" font-size="11.2" font-weight="bold" text-anchor="start" fill="#111" >dTK-H</text>
<line x1="276.7" y1="921.7" x2="290.6" y2="921.7" stroke="#e5654b" stroke-width="1.6" />
<circle cx="283.7" cy="921.7" r="2.9" fill="#e5654b"/>
<text x="299.3" y="925.7" font-size="11.2" font-weight="bold" text-anchor="start" fill="#111" >dF4-H</text>
<line x1="276.7" y1="940.4" x2="290.6" y2="940.4" stroke="#2d4c57" stroke-width="1.6" />
<circle cx="283.7" cy="940.4" r="2.9" fill="#2d4c57"/>
<text x="299.3" y="944.4" font-size="11.2" font-weight="bold" text-anchor="start" fill="#111" >dTF-H</text>
<line x1="276.7" y1="959.1" x2="290.6" y2="959.1" stroke="#5e1260" stroke-width="1.6" />
<circle cx="283.7" cy="959.1" r="2.9" fill="#5e1260"/>
<text x="299.3" y="963.1" font-size="11.2" font-weight="bold" text-anchor="start" fill="#111" >dBTF-H</text>
<line x1="401.5" y1="801.2" x2="401.5" y2="937.5" stroke="#111111" stroke-width="2.5" />
<line x1="400.3" y1="936.3" x2="604.5" y2="936.3" stroke="#111111" stroke-width="2.6" />
<line x1="396" y1="936.2" x2="401.5" y2="936.2" stroke="#111111" stroke-width="2.2" />
<text x="395" y="939.9" font-size="10.5" font-weight="bold" text-anchor="end" fill="#111" >0</text>
<line x1="396" y1="875.18" x2="401.5" y2="875.18" stroke="#111111" stroke-width="2.2" />
<text x="395" y="878.88" font-size="10.5" font-weight="bold" text-anchor="end" fill="#111" >50</text>
<line x1="396" y1="814.15" x2="401.5" y2="814.15" stroke="#111111" stroke-width="2.2" />
<text x="395" y="817.85" font-size="10.5" font-weight="bold" text-anchor="end" fill="#111" >100</text>
<line x1="401.2" y1="936.3" x2="401.2" y2="941.4" stroke="#111111" stroke-width="2.2" />
<text x="401.2" y="954.3" font-size="10.3" font-weight="bold" text-anchor="middle" fill="#111" >0</text>
<line x1="411.3" y1="936.3" x2="411.3" y2="939.8" stroke="#111111" stroke-width="2.2" />
<line x1="421.4" y1="936.3" x2="421.4" y2="939.8" stroke="#111111" stroke-width="2.2" />
<line x1="431.5" y1="936.3" x2="431.5" y2="939.8" stroke="#111111" stroke-width="2.2" />
<line x1="441.6" y1="936.3" x2="441.6" y2="939.8" stroke="#111111" stroke-width="2.2" />
<line x1="451.7" y1="936.3" x2="451.7" y2="941.4" stroke="#111111" stroke-width="2.2" />
<text x="451.7" y="954.3" font-size="10.3" font-weight="bold" text-anchor="middle" fill="#111" >5</text>
<line x1="461.8" y1="936.3" x2="461.8" y2="939.8" stroke="#111111" stroke-width="2.2" />
<line x1="471.9" y1="936.3" x2="471.9" y2="939.8" stroke="#111111" stroke-width="2.2" />
<line x1="482" y1="936.3" x2="482" y2="939.8" stroke="#111111" stroke-width="2.2" />
<line x1="492.1" y1="936.3" x2="492.1" y2="939.8" stroke="#111111" stroke-width="2.2" />
<line x1="502.2" y1="936.3" x2="502.2" y2="941.4" stroke="#111111" stroke-width="2.2" />
<text x="502.2" y="954.3" font-size="10.3" font-weight="bold" text-anchor="middle" fill="#111" >10</text>
<line x1="512.3" y1="936.3" x2="512.3" y2="939.8" stroke="#111111" stroke-width="2.2" />
<line x1="522.4" y1="936.3" x2="522.4" y2="939.8" stroke="#111111" stroke-width="2.2" />
<line x1="532.5" y1="936.3" x2="532.5" y2="939.8" stroke="#111111" stroke-width="2.2" />
<line x1="542.6" y1="936.3" x2="542.6" y2="939.8" stroke="#111111" stroke-width="2.2" />
<line x1="552.7" y1="936.3" x2="552.7" y2="941.4" stroke="#111111" stroke-width="2.2" />
<text x="552.7" y="954.3" font-size="10.3" font-weight="bold" text-anchor="middle" fill="#111" >15</text>
<line x1="562.8" y1="936.3" x2="562.8" y2="939.8" stroke="#111111" stroke-width="2.2" />
<line x1="572.9" y1="936.3" x2="572.9" y2="939.8" stroke="#111111" stroke-width="2.2" />
<line x1="583" y1="936.3" x2="583" y2="939.8" stroke="#111111" stroke-width="2.2" />
<line x1="593.1" y1="936.3" x2="593.1" y2="939.8" stroke="#111111" stroke-width="2.2" />
<line x1="603.2" y1="936.3" x2="603.2" y2="941.4" stroke="#111111" stroke-width="2.2" />
<text x="603.2" y="954.3" font-size="10.3" font-weight="bold" text-anchor="middle" fill="#111" >20</text>
<text x="502.2" y="972.3" font-size="11" font-weight="bold" text-anchor="middle" fill="#111" >days</text>
<text x="370" y="868.7" font-size="11" font-weight="bold" text-anchor="middle" fill="#111" transform="rotate(-90 370 868.7)">Survival rate (%)</text>
<line x1="402.5" y1="807.3" x2="593.1" y2="807.3" stroke="#5e1260" stroke-width="1.4" />
<line x1="402.5" y1="808.9" x2="593.1" y2="808.9" stroke="#9b6a24" stroke-width="1.8" />
<line x1="402.5" y1="810.35" x2="593.1" y2="810.35" stroke="#5e1260" stroke-width="1.1" />
<line x1="402.5" y1="811.35" x2="593.1" y2="811.35" stroke="#2d4c57" stroke-width="0.9" />
<line x1="402.5" y1="812.5" x2="593.1" y2="812.5" stroke="#e5654b" stroke-width="1.4" />
<line x1="402.5" y1="814.5" x2="593.1" y2="814.5" stroke="#9b6a24" stroke-width="2.6" />
<circle cx="593.1" cy="810" r="3.2" fill="#2d4c57"/>
<circle cx="593.1" cy="812.3" r="3" fill="#9b6a24"/>
<rect x="590.5" y="813" width="5.2" height="3.8" fill="#9b6a24"/>
<line x1="402.5" y1="814.2" x2="471.9" y2="814.2" stroke="#111111" stroke-width="1.7" stroke-dasharray="3.5,2.4"/>
<line x1="471.9" y1="814.2" x2="471.9" y2="911.79" stroke="#111111" stroke-width="1.7" stroke-dasharray="3.5,2.4"/>
<line x1="471.9" y1="911.79" x2="593.1" y2="911.79" stroke="#111111" stroke-width="1.7" stroke-dasharray="3.5,2.4"/>
<circle cx="471.9" cy="911.79" r="2.3" fill="#111111"/>
<circle cx="593.1" cy="911.79" r="2.3" fill="#111111"/>
<line x1="621.9" y1="803.4" x2="635.5" y2="803.4" stroke="#111111" stroke-width="1.3" stroke-dasharray="2.6,2.2"/>
<circle cx="628.6" cy="803.4" r="1.9" fill="#111111"/>
<text x="644.2" y="807.4" font-size="11.2" font-weight="bold" text-anchor="start" fill="#111" >PBS</text>
<line x1="621.9" y1="821.68" x2="635.5" y2="821.68" stroke="#9b6a24" stroke-width="3" />
<rect x="626" y="819.08" width="5.2" height="5.2" fill="#9b6a24"/>
<text x="644.2" y="825.68" font-size="11.2" font-weight="bold" text-anchor="start" fill="#111" >dTK-L</text>
<line x1="621.9" y1="839.96" x2="635.5" y2="839.96" stroke="#e5654b" stroke-width="3" />
<path d="M628.6,837.36 L631.2,841.96 L626,841.96 Z" fill="#e5654b"/>
<text x="644.2" y="843.96" font-size="11.2" font-weight="bold" text-anchor="start" fill="#111" >dF4-L</text>
<line x1="621.9" y1="858.24" x2="635.5" y2="858.24" stroke="#2d4c57" stroke-width="3" />
<path d="M628.6,860.84 L631.2,856.24 L626,856.24 Z" fill="#2d4c57"/>
<text x="644.2" y="862.24" font-size="11.2" font-weight="bold" text-anchor="start" fill="#111" >dTF-L</text>
<line x1="621.9" y1="876.52" x2="635.5" y2="876.52" stroke="#5e1260" stroke-width="3" />
<circle cx="628.6" cy="876.52" r="2.9" fill="#5e1260"/>
<text x="644.2" y="880.52" font-size="11.2" font-weight="bold" text-anchor="start" fill="#111" >dBTF-L</text>
<line x1="621.9" y1="894.8" x2="635.5" y2="894.8" stroke="#9b6a24" stroke-width="3" />
<circle cx="628.6" cy="894.8" r="3.6" fill="#9b6a24"/>
<text x="644.2" y="898.8" font-size="11.2" font-weight="bold" text-anchor="start" fill="#111" >dTK-H</text>
<line x1="621.9" y1="913.08" x2="635.5" y2="913.08" stroke="#e5654b" stroke-width="3" />
<circle cx="628.6" cy="913.08" r="2.9" fill="#e5654b"/>
<text x="644.2" y="917.08" font-size="11.2" font-weight="bold" text-anchor="start" fill="#111" >dF4-H</text>
<line x1="621.9" y1="931.36" x2="635.5" y2="931.36" stroke="#2d4c57" stroke-width="3" />
<circle cx="628.6" cy="931.36" r="2.9" fill="#2d4c57"/>
<text x="644.2" y="935.36" font-size="11.2" font-weight="bold" text-anchor="start" fill="#111" >dTF-H</text>
<line x1="621.9" y1="949.64" x2="635.5" y2="949.64" stroke="#5e1260" stroke-width="3" />
<circle cx="628.6" cy="949.64" r="2.9" fill="#5e1260"/>
<text x="644.2" y="953.64" font-size="11.2" font-weight="bold" text-anchor="start" fill="#111" >dBTF-H</text>
</svg></body></html>
